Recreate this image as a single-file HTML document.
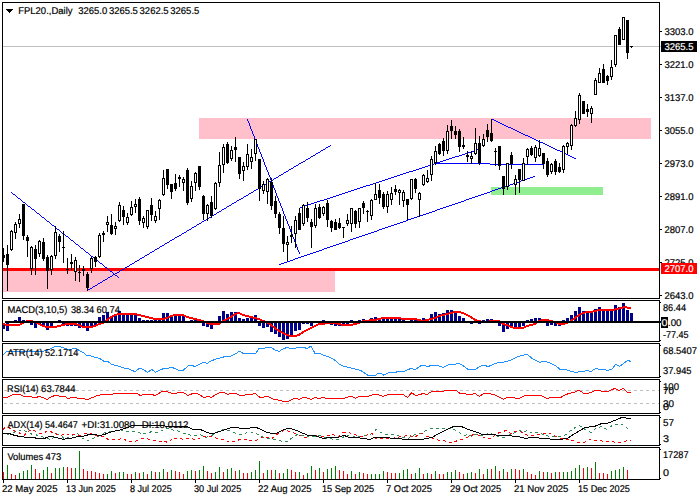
<!DOCTYPE html>
<html><head><meta charset="utf-8"><title>FPL20 Daily</title>
<style>
html,body{margin:0;padding:0;background:#fff;width:700px;height:500px;overflow:hidden}
svg{display:block}
text{font-family:"Liberation Sans",sans-serif;font-size:9.8px;fill:#000;stroke:#000;stroke-width:0.2px;text-rendering:geometricPrecision}
</style></head>
<body>
<svg width="700" height="500" viewBox="0 0 700 500" shape-rendering="crispEdges">
<rect x="0" y="0" width="700" height="500" fill="#fff"/>
<rect x="199" y="118" width="452" height="21" fill="#ffc0cb"/>
<rect x="3" y="268" width="332" height="24" fill="#ffc0cb"/>
<rect x="491" y="187" width="112" height="8" fill="#90ee90"/>
<rect x="3" y="46" width="658" height="1" fill="#c0c0c0"/>
<rect x="3" y="268" width="656" height="3" fill="#ff0000"/>
<rect x="11" y="192" width="1" height="1" fill="#0000ff"/>
<rect x="12" y="193" width="1" height="1" fill="#0000ff"/>
<rect x="13" y="194" width="2" height="1" fill="#0000ff"/>
<rect x="15" y="195" width="1" height="1" fill="#0000ff"/>
<rect x="16" y="196" width="1" height="1" fill="#0000ff"/>
<rect x="17" y="197" width="1" height="1" fill="#0000ff"/>
<rect x="18" y="198" width="2" height="1" fill="#0000ff"/>
<rect x="20" y="199" width="1" height="1" fill="#0000ff"/>
<rect x="21" y="200" width="1" height="1" fill="#0000ff"/>
<rect x="22" y="201" width="1" height="1" fill="#0000ff"/>
<rect x="23" y="202" width="2" height="1" fill="#0000ff"/>
<rect x="25" y="203" width="1" height="1" fill="#0000ff"/>
<rect x="26" y="204" width="1" height="1" fill="#0000ff"/>
<rect x="27" y="205" width="1" height="1" fill="#0000ff"/>
<rect x="28" y="206" width="2" height="1" fill="#0000ff"/>
<rect x="30" y="207" width="1" height="1" fill="#0000ff"/>
<rect x="31" y="208" width="1" height="1" fill="#0000ff"/>
<rect x="32" y="209" width="2" height="1" fill="#0000ff"/>
<rect x="34" y="210" width="1" height="1" fill="#0000ff"/>
<rect x="35" y="211" width="1" height="1" fill="#0000ff"/>
<rect x="36" y="212" width="1" height="1" fill="#0000ff"/>
<rect x="37" y="213" width="2" height="1" fill="#0000ff"/>
<rect x="39" y="214" width="1" height="1" fill="#0000ff"/>
<rect x="40" y="215" width="1" height="1" fill="#0000ff"/>
<rect x="41" y="216" width="1" height="1" fill="#0000ff"/>
<rect x="42" y="217" width="2" height="1" fill="#0000ff"/>
<rect x="44" y="218" width="1" height="1" fill="#0000ff"/>
<rect x="45" y="219" width="1" height="1" fill="#0000ff"/>
<rect x="46" y="220" width="1" height="1" fill="#0000ff"/>
<rect x="47" y="221" width="2" height="1" fill="#0000ff"/>
<rect x="49" y="222" width="1" height="1" fill="#0000ff"/>
<rect x="50" y="223" width="1" height="1" fill="#0000ff"/>
<rect x="51" y="224" width="1" height="1" fill="#0000ff"/>
<rect x="52" y="225" width="2" height="1" fill="#0000ff"/>
<rect x="54" y="226" width="1" height="1" fill="#0000ff"/>
<rect x="55" y="227" width="1" height="1" fill="#0000ff"/>
<rect x="56" y="228" width="1" height="1" fill="#0000ff"/>
<rect x="57" y="229" width="2" height="1" fill="#0000ff"/>
<rect x="59" y="230" width="1" height="1" fill="#0000ff"/>
<rect x="60" y="231" width="1" height="1" fill="#0000ff"/>
<rect x="61" y="232" width="1" height="1" fill="#0000ff"/>
<rect x="62" y="233" width="2" height="1" fill="#0000ff"/>
<rect x="64" y="234" width="1" height="1" fill="#0000ff"/>
<rect x="65" y="235" width="1" height="1" fill="#0000ff"/>
<rect x="66" y="236" width="2" height="1" fill="#0000ff"/>
<rect x="68" y="237" width="1" height="1" fill="#0000ff"/>
<rect x="69" y="238" width="1" height="1" fill="#0000ff"/>
<rect x="70" y="239" width="1" height="1" fill="#0000ff"/>
<rect x="71" y="240" width="2" height="1" fill="#0000ff"/>
<rect x="73" y="241" width="1" height="1" fill="#0000ff"/>
<rect x="74" y="242" width="1" height="1" fill="#0000ff"/>
<rect x="75" y="243" width="1" height="1" fill="#0000ff"/>
<rect x="76" y="244" width="2" height="1" fill="#0000ff"/>
<rect x="78" y="245" width="1" height="1" fill="#0000ff"/>
<rect x="79" y="246" width="1" height="1" fill="#0000ff"/>
<rect x="80" y="247" width="1" height="1" fill="#0000ff"/>
<rect x="81" y="248" width="2" height="1" fill="#0000ff"/>
<rect x="83" y="249" width="1" height="1" fill="#0000ff"/>
<rect x="84" y="250" width="1" height="1" fill="#0000ff"/>
<rect x="85" y="251" width="1" height="1" fill="#0000ff"/>
<rect x="86" y="252" width="2" height="1" fill="#0000ff"/>
<rect x="88" y="253" width="1" height="1" fill="#0000ff"/>
<rect x="89" y="254" width="1" height="1" fill="#0000ff"/>
<rect x="90" y="255" width="1" height="1" fill="#0000ff"/>
<rect x="91" y="256" width="2" height="1" fill="#0000ff"/>
<rect x="93" y="257" width="1" height="1" fill="#0000ff"/>
<rect x="94" y="258" width="1" height="1" fill="#0000ff"/>
<rect x="95" y="259" width="1" height="1" fill="#0000ff"/>
<rect x="96" y="260" width="2" height="1" fill="#0000ff"/>
<rect x="98" y="261" width="1" height="1" fill="#0000ff"/>
<rect x="99" y="262" width="1" height="1" fill="#0000ff"/>
<rect x="100" y="263" width="2" height="1" fill="#0000ff"/>
<rect x="102" y="264" width="1" height="1" fill="#0000ff"/>
<rect x="103" y="265" width="1" height="1" fill="#0000ff"/>
<rect x="104" y="266" width="1" height="1" fill="#0000ff"/>
<rect x="105" y="267" width="2" height="1" fill="#0000ff"/>
<rect x="107" y="268" width="1" height="1" fill="#0000ff"/>
<rect x="108" y="269" width="1" height="1" fill="#0000ff"/>
<rect x="109" y="270" width="1" height="1" fill="#0000ff"/>
<rect x="110" y="271" width="2" height="1" fill="#0000ff"/>
<rect x="112" y="272" width="1" height="1" fill="#0000ff"/>
<rect x="113" y="273" width="1" height="1" fill="#0000ff"/>
<rect x="114" y="274" width="1" height="1" fill="#0000ff"/>
<rect x="115" y="275" width="2" height="1" fill="#0000ff"/>
<rect x="117" y="276" width="1" height="1" fill="#0000ff"/>
<rect x="118" y="277" width="1" height="1" fill="#0000ff"/>
<rect x="87" y="290" width="1" height="1" fill="#0000ff"/>
<rect x="88" y="289" width="2" height="1" fill="#0000ff"/>
<rect x="90" y="288" width="2" height="1" fill="#0000ff"/>
<rect x="92" y="287" width="1" height="1" fill="#0000ff"/>
<rect x="93" y="286" width="2" height="1" fill="#0000ff"/>
<rect x="95" y="285" width="2" height="1" fill="#0000ff"/>
<rect x="97" y="284" width="1" height="1" fill="#0000ff"/>
<rect x="98" y="283" width="2" height="1" fill="#0000ff"/>
<rect x="100" y="282" width="2" height="1" fill="#0000ff"/>
<rect x="102" y="281" width="1" height="1" fill="#0000ff"/>
<rect x="103" y="280" width="2" height="1" fill="#0000ff"/>
<rect x="105" y="279" width="2" height="1" fill="#0000ff"/>
<rect x="107" y="278" width="1" height="1" fill="#0000ff"/>
<rect x="108" y="277" width="2" height="1" fill="#0000ff"/>
<rect x="110" y="276" width="2" height="1" fill="#0000ff"/>
<rect x="112" y="275" width="1" height="1" fill="#0000ff"/>
<rect x="113" y="274" width="2" height="1" fill="#0000ff"/>
<rect x="115" y="273" width="2" height="1" fill="#0000ff"/>
<rect x="117" y="272" width="2" height="1" fill="#0000ff"/>
<rect x="119" y="271" width="1" height="1" fill="#0000ff"/>
<rect x="120" y="270" width="2" height="1" fill="#0000ff"/>
<rect x="122" y="269" width="2" height="1" fill="#0000ff"/>
<rect x="124" y="268" width="1" height="1" fill="#0000ff"/>
<rect x="125" y="267" width="2" height="1" fill="#0000ff"/>
<rect x="127" y="266" width="2" height="1" fill="#0000ff"/>
<rect x="129" y="265" width="1" height="1" fill="#0000ff"/>
<rect x="130" y="264" width="2" height="1" fill="#0000ff"/>
<rect x="132" y="263" width="2" height="1" fill="#0000ff"/>
<rect x="134" y="262" width="1" height="1" fill="#0000ff"/>
<rect x="135" y="261" width="2" height="1" fill="#0000ff"/>
<rect x="137" y="260" width="2" height="1" fill="#0000ff"/>
<rect x="139" y="259" width="1" height="1" fill="#0000ff"/>
<rect x="140" y="258" width="2" height="1" fill="#0000ff"/>
<rect x="142" y="257" width="2" height="1" fill="#0000ff"/>
<rect x="144" y="256" width="1" height="1" fill="#0000ff"/>
<rect x="145" y="255" width="2" height="1" fill="#0000ff"/>
<rect x="147" y="254" width="2" height="1" fill="#0000ff"/>
<rect x="149" y="253" width="1" height="1" fill="#0000ff"/>
<rect x="150" y="252" width="2" height="1" fill="#0000ff"/>
<rect x="152" y="251" width="2" height="1" fill="#0000ff"/>
<rect x="154" y="250" width="1" height="1" fill="#0000ff"/>
<rect x="155" y="249" width="2" height="1" fill="#0000ff"/>
<rect x="157" y="248" width="2" height="1" fill="#0000ff"/>
<rect x="159" y="247" width="1" height="1" fill="#0000ff"/>
<rect x="160" y="246" width="2" height="1" fill="#0000ff"/>
<rect x="162" y="245" width="2" height="1" fill="#0000ff"/>
<rect x="164" y="244" width="1" height="1" fill="#0000ff"/>
<rect x="165" y="243" width="2" height="1" fill="#0000ff"/>
<rect x="167" y="242" width="2" height="1" fill="#0000ff"/>
<rect x="169" y="241" width="1" height="1" fill="#0000ff"/>
<rect x="170" y="240" width="2" height="1" fill="#0000ff"/>
<rect x="172" y="239" width="2" height="1" fill="#0000ff"/>
<rect x="174" y="238" width="1" height="1" fill="#0000ff"/>
<rect x="175" y="237" width="2" height="1" fill="#0000ff"/>
<rect x="177" y="236" width="2" height="1" fill="#0000ff"/>
<rect x="179" y="235" width="2" height="1" fill="#0000ff"/>
<rect x="181" y="234" width="1" height="1" fill="#0000ff"/>
<rect x="182" y="233" width="2" height="1" fill="#0000ff"/>
<rect x="184" y="232" width="2" height="1" fill="#0000ff"/>
<rect x="186" y="231" width="1" height="1" fill="#0000ff"/>
<rect x="187" y="230" width="2" height="1" fill="#0000ff"/>
<rect x="189" y="229" width="2" height="1" fill="#0000ff"/>
<rect x="191" y="228" width="1" height="1" fill="#0000ff"/>
<rect x="192" y="227" width="2" height="1" fill="#0000ff"/>
<rect x="194" y="226" width="2" height="1" fill="#0000ff"/>
<rect x="196" y="225" width="1" height="1" fill="#0000ff"/>
<rect x="197" y="224" width="2" height="1" fill="#0000ff"/>
<rect x="199" y="223" width="2" height="1" fill="#0000ff"/>
<rect x="201" y="222" width="1" height="1" fill="#0000ff"/>
<rect x="202" y="221" width="2" height="1" fill="#0000ff"/>
<rect x="204" y="220" width="2" height="1" fill="#0000ff"/>
<rect x="206" y="219" width="1" height="1" fill="#0000ff"/>
<rect x="207" y="218" width="2" height="1" fill="#0000ff"/>
<rect x="209" y="217" width="2" height="1" fill="#0000ff"/>
<rect x="211" y="216" width="1" height="1" fill="#0000ff"/>
<rect x="212" y="215" width="2" height="1" fill="#0000ff"/>
<rect x="214" y="214" width="2" height="1" fill="#0000ff"/>
<rect x="216" y="213" width="1" height="1" fill="#0000ff"/>
<rect x="217" y="212" width="2" height="1" fill="#0000ff"/>
<rect x="219" y="211" width="2" height="1" fill="#0000ff"/>
<rect x="221" y="210" width="1" height="1" fill="#0000ff"/>
<rect x="222" y="209" width="2" height="1" fill="#0000ff"/>
<rect x="224" y="208" width="2" height="1" fill="#0000ff"/>
<rect x="226" y="207" width="1" height="1" fill="#0000ff"/>
<rect x="227" y="206" width="2" height="1" fill="#0000ff"/>
<rect x="229" y="205" width="2" height="1" fill="#0000ff"/>
<rect x="231" y="204" width="1" height="1" fill="#0000ff"/>
<rect x="232" y="203" width="2" height="1" fill="#0000ff"/>
<rect x="234" y="202" width="2" height="1" fill="#0000ff"/>
<rect x="236" y="201" width="1" height="1" fill="#0000ff"/>
<rect x="237" y="200" width="2" height="1" fill="#0000ff"/>
<rect x="239" y="199" width="2" height="1" fill="#0000ff"/>
<rect x="241" y="198" width="2" height="1" fill="#0000ff"/>
<rect x="243" y="197" width="1" height="1" fill="#0000ff"/>
<rect x="244" y="196" width="2" height="1" fill="#0000ff"/>
<rect x="246" y="195" width="2" height="1" fill="#0000ff"/>
<rect x="248" y="194" width="1" height="1" fill="#0000ff"/>
<rect x="249" y="193" width="2" height="1" fill="#0000ff"/>
<rect x="251" y="192" width="2" height="1" fill="#0000ff"/>
<rect x="253" y="191" width="1" height="1" fill="#0000ff"/>
<rect x="254" y="190" width="2" height="1" fill="#0000ff"/>
<rect x="256" y="189" width="2" height="1" fill="#0000ff"/>
<rect x="258" y="188" width="1" height="1" fill="#0000ff"/>
<rect x="259" y="187" width="2" height="1" fill="#0000ff"/>
<rect x="261" y="186" width="2" height="1" fill="#0000ff"/>
<rect x="263" y="185" width="1" height="1" fill="#0000ff"/>
<rect x="264" y="184" width="2" height="1" fill="#0000ff"/>
<rect x="266" y="183" width="2" height="1" fill="#0000ff"/>
<rect x="268" y="182" width="1" height="1" fill="#0000ff"/>
<rect x="269" y="181" width="2" height="1" fill="#0000ff"/>
<rect x="271" y="180" width="2" height="1" fill="#0000ff"/>
<rect x="273" y="179" width="1" height="1" fill="#0000ff"/>
<rect x="274" y="178" width="2" height="1" fill="#0000ff"/>
<rect x="276" y="177" width="2" height="1" fill="#0000ff"/>
<rect x="278" y="176" width="1" height="1" fill="#0000ff"/>
<rect x="279" y="175" width="2" height="1" fill="#0000ff"/>
<rect x="281" y="174" width="2" height="1" fill="#0000ff"/>
<rect x="283" y="173" width="1" height="1" fill="#0000ff"/>
<rect x="284" y="172" width="2" height="1" fill="#0000ff"/>
<rect x="286" y="171" width="2" height="1" fill="#0000ff"/>
<rect x="288" y="170" width="1" height="1" fill="#0000ff"/>
<rect x="289" y="169" width="2" height="1" fill="#0000ff"/>
<rect x="291" y="168" width="2" height="1" fill="#0000ff"/>
<rect x="293" y="167" width="1" height="1" fill="#0000ff"/>
<rect x="294" y="166" width="2" height="1" fill="#0000ff"/>
<rect x="296" y="165" width="2" height="1" fill="#0000ff"/>
<rect x="298" y="164" width="1" height="1" fill="#0000ff"/>
<rect x="299" y="163" width="2" height="1" fill="#0000ff"/>
<rect x="301" y="162" width="2" height="1" fill="#0000ff"/>
<rect x="303" y="161" width="2" height="1" fill="#0000ff"/>
<rect x="305" y="160" width="1" height="1" fill="#0000ff"/>
<rect x="306" y="159" width="2" height="1" fill="#0000ff"/>
<rect x="308" y="158" width="2" height="1" fill="#0000ff"/>
<rect x="310" y="157" width="1" height="1" fill="#0000ff"/>
<rect x="311" y="156" width="2" height="1" fill="#0000ff"/>
<rect x="313" y="155" width="2" height="1" fill="#0000ff"/>
<rect x="315" y="154" width="1" height="1" fill="#0000ff"/>
<rect x="316" y="153" width="2" height="1" fill="#0000ff"/>
<rect x="318" y="152" width="2" height="1" fill="#0000ff"/>
<rect x="320" y="151" width="1" height="1" fill="#0000ff"/>
<rect x="321" y="150" width="2" height="1" fill="#0000ff"/>
<rect x="323" y="149" width="2" height="1" fill="#0000ff"/>
<rect x="325" y="148" width="1" height="1" fill="#0000ff"/>
<rect x="326" y="147" width="2" height="1" fill="#0000ff"/>
<rect x="328" y="146" width="2" height="1" fill="#0000ff"/>
<rect x="330" y="145" width="1" height="1" fill="#0000ff"/>
<rect x="247" y="119" width="1" height="2" fill="#0000ff"/>
<rect x="248" y="121" width="1" height="2" fill="#0000ff"/>
<rect x="249" y="123" width="1" height="3" fill="#0000ff"/>
<rect x="250" y="126" width="1" height="3" fill="#0000ff"/>
<rect x="251" y="129" width="1" height="2" fill="#0000ff"/>
<rect x="252" y="131" width="1" height="3" fill="#0000ff"/>
<rect x="253" y="134" width="1" height="2" fill="#0000ff"/>
<rect x="254" y="136" width="1" height="3" fill="#0000ff"/>
<rect x="255" y="139" width="1" height="2" fill="#0000ff"/>
<rect x="256" y="141" width="1" height="3" fill="#0000ff"/>
<rect x="257" y="144" width="1" height="3" fill="#0000ff"/>
<rect x="258" y="147" width="1" height="2" fill="#0000ff"/>
<rect x="259" y="149" width="1" height="3" fill="#0000ff"/>
<rect x="260" y="152" width="1" height="2" fill="#0000ff"/>
<rect x="261" y="154" width="1" height="3" fill="#0000ff"/>
<rect x="262" y="157" width="1" height="2" fill="#0000ff"/>
<rect x="263" y="159" width="1" height="3" fill="#0000ff"/>
<rect x="264" y="162" width="1" height="3" fill="#0000ff"/>
<rect x="265" y="165" width="1" height="2" fill="#0000ff"/>
<rect x="266" y="167" width="1" height="3" fill="#0000ff"/>
<rect x="267" y="170" width="1" height="2" fill="#0000ff"/>
<rect x="268" y="172" width="1" height="3" fill="#0000ff"/>
<rect x="269" y="175" width="1" height="2" fill="#0000ff"/>
<rect x="270" y="177" width="1" height="3" fill="#0000ff"/>
<rect x="271" y="180" width="1" height="3" fill="#0000ff"/>
<rect x="272" y="183" width="1" height="2" fill="#0000ff"/>
<rect x="273" y="185" width="1" height="3" fill="#0000ff"/>
<rect x="274" y="188" width="1" height="2" fill="#0000ff"/>
<rect x="275" y="190" width="1" height="3" fill="#0000ff"/>
<rect x="276" y="193" width="1" height="3" fill="#0000ff"/>
<rect x="277" y="196" width="1" height="2" fill="#0000ff"/>
<rect x="278" y="198" width="1" height="3" fill="#0000ff"/>
<rect x="279" y="201" width="1" height="2" fill="#0000ff"/>
<rect x="280" y="203" width="1" height="3" fill="#0000ff"/>
<rect x="281" y="206" width="1" height="2" fill="#0000ff"/>
<rect x="282" y="208" width="1" height="3" fill="#0000ff"/>
<rect x="283" y="211" width="1" height="3" fill="#0000ff"/>
<rect x="284" y="214" width="1" height="2" fill="#0000ff"/>
<rect x="285" y="216" width="1" height="3" fill="#0000ff"/>
<rect x="286" y="219" width="1" height="2" fill="#0000ff"/>
<rect x="287" y="221" width="1" height="3" fill="#0000ff"/>
<rect x="288" y="224" width="1" height="2" fill="#0000ff"/>
<rect x="289" y="226" width="1" height="3" fill="#0000ff"/>
<rect x="290" y="229" width="1" height="3" fill="#0000ff"/>
<rect x="291" y="232" width="1" height="2" fill="#0000ff"/>
<rect x="292" y="234" width="1" height="3" fill="#0000ff"/>
<rect x="293" y="237" width="1" height="2" fill="#0000ff"/>
<rect x="294" y="239" width="1" height="3" fill="#0000ff"/>
<rect x="295" y="242" width="1" height="2" fill="#0000ff"/>
<rect x="296" y="244" width="1" height="3" fill="#0000ff"/>
<rect x="297" y="247" width="1" height="3" fill="#0000ff"/>
<rect x="298" y="250" width="1" height="2" fill="#0000ff"/>
<rect x="299" y="252" width="1" height="2" fill="#0000ff"/>
<rect x="300" y="207" width="2" height="1" fill="#0000ff"/>
<rect x="302" y="206" width="3" height="1" fill="#0000ff"/>
<rect x="305" y="205" width="3" height="1" fill="#0000ff"/>
<rect x="308" y="204" width="3" height="1" fill="#0000ff"/>
<rect x="311" y="203" width="3" height="1" fill="#0000ff"/>
<rect x="314" y="202" width="3" height="1" fill="#0000ff"/>
<rect x="317" y="201" width="3" height="1" fill="#0000ff"/>
<rect x="320" y="200" width="4" height="1" fill="#0000ff"/>
<rect x="324" y="199" width="3" height="1" fill="#0000ff"/>
<rect x="327" y="198" width="3" height="1" fill="#0000ff"/>
<rect x="330" y="197" width="3" height="1" fill="#0000ff"/>
<rect x="333" y="196" width="3" height="1" fill="#0000ff"/>
<rect x="336" y="195" width="3" height="1" fill="#0000ff"/>
<rect x="339" y="194" width="3" height="1" fill="#0000ff"/>
<rect x="342" y="193" width="3" height="1" fill="#0000ff"/>
<rect x="345" y="192" width="3" height="1" fill="#0000ff"/>
<rect x="348" y="191" width="3" height="1" fill="#0000ff"/>
<rect x="351" y="190" width="3" height="1" fill="#0000ff"/>
<rect x="354" y="189" width="3" height="1" fill="#0000ff"/>
<rect x="357" y="188" width="3" height="1" fill="#0000ff"/>
<rect x="360" y="187" width="3" height="1" fill="#0000ff"/>
<rect x="363" y="186" width="3" height="1" fill="#0000ff"/>
<rect x="366" y="185" width="4" height="1" fill="#0000ff"/>
<rect x="370" y="184" width="3" height="1" fill="#0000ff"/>
<rect x="373" y="183" width="3" height="1" fill="#0000ff"/>
<rect x="376" y="182" width="3" height="1" fill="#0000ff"/>
<rect x="379" y="181" width="3" height="1" fill="#0000ff"/>
<rect x="382" y="180" width="3" height="1" fill="#0000ff"/>
<rect x="385" y="179" width="3" height="1" fill="#0000ff"/>
<rect x="388" y="178" width="3" height="1" fill="#0000ff"/>
<rect x="391" y="177" width="3" height="1" fill="#0000ff"/>
<rect x="394" y="176" width="3" height="1" fill="#0000ff"/>
<rect x="397" y="175" width="3" height="1" fill="#0000ff"/>
<rect x="400" y="174" width="3" height="1" fill="#0000ff"/>
<rect x="403" y="173" width="3" height="1" fill="#0000ff"/>
<rect x="406" y="172" width="3" height="1" fill="#0000ff"/>
<rect x="409" y="171" width="4" height="1" fill="#0000ff"/>
<rect x="413" y="170" width="3" height="1" fill="#0000ff"/>
<rect x="416" y="169" width="3" height="1" fill="#0000ff"/>
<rect x="419" y="168" width="3" height="1" fill="#0000ff"/>
<rect x="422" y="167" width="3" height="1" fill="#0000ff"/>
<rect x="425" y="166" width="3" height="1" fill="#0000ff"/>
<rect x="428" y="165" width="3" height="1" fill="#0000ff"/>
<rect x="431" y="164" width="3" height="1" fill="#0000ff"/>
<rect x="434" y="163" width="3" height="1" fill="#0000ff"/>
<rect x="437" y="162" width="3" height="1" fill="#0000ff"/>
<rect x="440" y="161" width="3" height="1" fill="#0000ff"/>
<rect x="443" y="160" width="3" height="1" fill="#0000ff"/>
<rect x="446" y="159" width="3" height="1" fill="#0000ff"/>
<rect x="449" y="158" width="3" height="1" fill="#0000ff"/>
<rect x="452" y="157" width="3" height="1" fill="#0000ff"/>
<rect x="455" y="156" width="4" height="1" fill="#0000ff"/>
<rect x="459" y="155" width="3" height="1" fill="#0000ff"/>
<rect x="462" y="154" width="3" height="1" fill="#0000ff"/>
<rect x="465" y="153" width="3" height="1" fill="#0000ff"/>
<rect x="468" y="152" width="3" height="1" fill="#0000ff"/>
<rect x="471" y="151" width="3" height="1" fill="#0000ff"/>
<rect x="474" y="150" width="3" height="1" fill="#0000ff"/>
<rect x="477" y="149" width="2" height="1" fill="#0000ff"/>
<rect x="279" y="264" width="2" height="1" fill="#0000ff"/>
<rect x="281" y="263" width="3" height="1" fill="#0000ff"/>
<rect x="284" y="262" width="3" height="1" fill="#0000ff"/>
<rect x="287" y="261" width="3" height="1" fill="#0000ff"/>
<rect x="290" y="260" width="3" height="1" fill="#0000ff"/>
<rect x="293" y="259" width="2" height="1" fill="#0000ff"/>
<rect x="295" y="258" width="3" height="1" fill="#0000ff"/>
<rect x="298" y="257" width="3" height="1" fill="#0000ff"/>
<rect x="301" y="256" width="3" height="1" fill="#0000ff"/>
<rect x="304" y="255" width="3" height="1" fill="#0000ff"/>
<rect x="307" y="254" width="3" height="1" fill="#0000ff"/>
<rect x="310" y="253" width="3" height="1" fill="#0000ff"/>
<rect x="313" y="252" width="3" height="1" fill="#0000ff"/>
<rect x="316" y="251" width="3" height="1" fill="#0000ff"/>
<rect x="319" y="250" width="3" height="1" fill="#0000ff"/>
<rect x="322" y="249" width="2" height="1" fill="#0000ff"/>
<rect x="324" y="248" width="3" height="1" fill="#0000ff"/>
<rect x="327" y="247" width="3" height="1" fill="#0000ff"/>
<rect x="330" y="246" width="3" height="1" fill="#0000ff"/>
<rect x="333" y="245" width="3" height="1" fill="#0000ff"/>
<rect x="336" y="244" width="3" height="1" fill="#0000ff"/>
<rect x="339" y="243" width="3" height="1" fill="#0000ff"/>
<rect x="342" y="242" width="3" height="1" fill="#0000ff"/>
<rect x="345" y="241" width="3" height="1" fill="#0000ff"/>
<rect x="348" y="240" width="2" height="1" fill="#0000ff"/>
<rect x="350" y="239" width="3" height="1" fill="#0000ff"/>
<rect x="353" y="238" width="3" height="1" fill="#0000ff"/>
<rect x="356" y="237" width="3" height="1" fill="#0000ff"/>
<rect x="359" y="236" width="3" height="1" fill="#0000ff"/>
<rect x="362" y="235" width="3" height="1" fill="#0000ff"/>
<rect x="365" y="234" width="3" height="1" fill="#0000ff"/>
<rect x="368" y="233" width="3" height="1" fill="#0000ff"/>
<rect x="371" y="232" width="3" height="1" fill="#0000ff"/>
<rect x="374" y="231" width="3" height="1" fill="#0000ff"/>
<rect x="377" y="230" width="2" height="1" fill="#0000ff"/>
<rect x="379" y="229" width="3" height="1" fill="#0000ff"/>
<rect x="382" y="228" width="3" height="1" fill="#0000ff"/>
<rect x="385" y="227" width="3" height="1" fill="#0000ff"/>
<rect x="388" y="226" width="3" height="1" fill="#0000ff"/>
<rect x="391" y="225" width="3" height="1" fill="#0000ff"/>
<rect x="394" y="224" width="3" height="1" fill="#0000ff"/>
<rect x="397" y="223" width="3" height="1" fill="#0000ff"/>
<rect x="400" y="222" width="3" height="1" fill="#0000ff"/>
<rect x="403" y="221" width="3" height="1" fill="#0000ff"/>
<rect x="406" y="220" width="2" height="1" fill="#0000ff"/>
<rect x="408" y="219" width="3" height="1" fill="#0000ff"/>
<rect x="411" y="218" width="3" height="1" fill="#0000ff"/>
<rect x="414" y="217" width="3" height="1" fill="#0000ff"/>
<rect x="417" y="216" width="3" height="1" fill="#0000ff"/>
<rect x="420" y="215" width="3" height="1" fill="#0000ff"/>
<rect x="423" y="214" width="3" height="1" fill="#0000ff"/>
<rect x="426" y="213" width="3" height="1" fill="#0000ff"/>
<rect x="429" y="212" width="3" height="1" fill="#0000ff"/>
<rect x="432" y="211" width="3" height="1" fill="#0000ff"/>
<rect x="435" y="210" width="2" height="1" fill="#0000ff"/>
<rect x="437" y="209" width="3" height="1" fill="#0000ff"/>
<rect x="440" y="208" width="3" height="1" fill="#0000ff"/>
<rect x="443" y="207" width="3" height="1" fill="#0000ff"/>
<rect x="446" y="206" width="3" height="1" fill="#0000ff"/>
<rect x="449" y="205" width="3" height="1" fill="#0000ff"/>
<rect x="452" y="204" width="3" height="1" fill="#0000ff"/>
<rect x="455" y="203" width="3" height="1" fill="#0000ff"/>
<rect x="458" y="202" width="3" height="1" fill="#0000ff"/>
<rect x="461" y="201" width="3" height="1" fill="#0000ff"/>
<rect x="464" y="200" width="2" height="1" fill="#0000ff"/>
<rect x="466" y="199" width="3" height="1" fill="#0000ff"/>
<rect x="469" y="198" width="3" height="1" fill="#0000ff"/>
<rect x="472" y="197" width="3" height="1" fill="#0000ff"/>
<rect x="475" y="196" width="3" height="1" fill="#0000ff"/>
<rect x="478" y="195" width="3" height="1" fill="#0000ff"/>
<rect x="481" y="194" width="3" height="1" fill="#0000ff"/>
<rect x="484" y="193" width="3" height="1" fill="#0000ff"/>
<rect x="487" y="192" width="3" height="1" fill="#0000ff"/>
<rect x="490" y="191" width="2" height="1" fill="#0000ff"/>
<rect x="492" y="190" width="3" height="1" fill="#0000ff"/>
<rect x="495" y="189" width="3" height="1" fill="#0000ff"/>
<rect x="498" y="188" width="3" height="1" fill="#0000ff"/>
<rect x="501" y="187" width="3" height="1" fill="#0000ff"/>
<rect x="504" y="186" width="3" height="1" fill="#0000ff"/>
<rect x="507" y="185" width="3" height="1" fill="#0000ff"/>
<rect x="510" y="184" width="3" height="1" fill="#0000ff"/>
<rect x="513" y="183" width="3" height="1" fill="#0000ff"/>
<rect x="516" y="182" width="3" height="1" fill="#0000ff"/>
<rect x="519" y="181" width="2" height="1" fill="#0000ff"/>
<rect x="521" y="180" width="3" height="1" fill="#0000ff"/>
<rect x="524" y="179" width="3" height="1" fill="#0000ff"/>
<rect x="527" y="178" width="3" height="1" fill="#0000ff"/>
<rect x="530" y="177" width="3" height="1" fill="#0000ff"/>
<rect x="533" y="176" width="2" height="1" fill="#0000ff"/>
<rect x="436" y="163" width="54" height="1" fill="#0000ff"/>
<rect x="490" y="164" width="54" height="1" fill="#0000ff"/>
<rect x="492" y="119" width="2" height="1" fill="#0000ff"/>
<rect x="494" y="120" width="2" height="1" fill="#0000ff"/>
<rect x="496" y="121" width="2" height="1" fill="#0000ff"/>
<rect x="498" y="122" width="2" height="1" fill="#0000ff"/>
<rect x="500" y="123" width="2" height="1" fill="#0000ff"/>
<rect x="502" y="124" width="2" height="1" fill="#0000ff"/>
<rect x="504" y="125" width="2" height="1" fill="#0000ff"/>
<rect x="506" y="126" width="2" height="1" fill="#0000ff"/>
<rect x="508" y="127" width="3" height="1" fill="#0000ff"/>
<rect x="511" y="128" width="2" height="1" fill="#0000ff"/>
<rect x="513" y="129" width="2" height="1" fill="#0000ff"/>
<rect x="515" y="130" width="2" height="1" fill="#0000ff"/>
<rect x="517" y="131" width="2" height="1" fill="#0000ff"/>
<rect x="519" y="132" width="2" height="1" fill="#0000ff"/>
<rect x="521" y="133" width="2" height="1" fill="#0000ff"/>
<rect x="523" y="134" width="2" height="1" fill="#0000ff"/>
<rect x="525" y="135" width="3" height="1" fill="#0000ff"/>
<rect x="528" y="136" width="2" height="1" fill="#0000ff"/>
<rect x="530" y="137" width="2" height="1" fill="#0000ff"/>
<rect x="532" y="138" width="2" height="1" fill="#0000ff"/>
<rect x="534" y="139" width="2" height="1" fill="#0000ff"/>
<rect x="536" y="140" width="2" height="1" fill="#0000ff"/>
<rect x="538" y="141" width="2" height="1" fill="#0000ff"/>
<rect x="540" y="142" width="3" height="1" fill="#0000ff"/>
<rect x="543" y="143" width="2" height="1" fill="#0000ff"/>
<rect x="545" y="144" width="2" height="1" fill="#0000ff"/>
<rect x="547" y="145" width="2" height="1" fill="#0000ff"/>
<rect x="549" y="146" width="2" height="1" fill="#0000ff"/>
<rect x="551" y="147" width="2" height="1" fill="#0000ff"/>
<rect x="553" y="148" width="2" height="1" fill="#0000ff"/>
<rect x="555" y="149" width="2" height="1" fill="#0000ff"/>
<rect x="557" y="150" width="3" height="1" fill="#0000ff"/>
<rect x="560" y="151" width="2" height="1" fill="#0000ff"/>
<rect x="562" y="152" width="2" height="1" fill="#0000ff"/>
<rect x="564" y="153" width="2" height="1" fill="#0000ff"/>
<rect x="566" y="154" width="2" height="1" fill="#0000ff"/>
<rect x="568" y="155" width="2" height="1" fill="#0000ff"/>
<rect x="570" y="156" width="2" height="1" fill="#0000ff"/>
<rect x="572" y="157" width="2" height="1" fill="#0000ff"/>
<rect x="574" y="158" width="2" height="1" fill="#0000ff"/>
<rect x="3" y="248" width="1" height="14" fill="#000"/>
<rect x="2" y="255" width="3" height="3" fill="#000"/>
<rect x="7" y="245" width="1" height="46" fill="#000"/>
<rect x="6" y="254" width="3" height="11" fill="#000"/>
<rect x="11" y="230" width="1" height="21" fill="#000"/>
<rect x="10" y="231" width="3" height="19" fill="#000"/>
<rect x="11" y="232" width="1" height="17" fill="#fff"/>
<rect x="15" y="222" width="1" height="17" fill="#000"/>
<rect x="14" y="224" width="3" height="9" fill="#000"/>
<rect x="15" y="225" width="1" height="7" fill="#fff"/>
<rect x="19" y="214" width="1" height="14" fill="#000"/>
<rect x="18" y="219" width="3" height="5" fill="#000"/>
<rect x="19" y="220" width="1" height="3" fill="#fff"/>
<rect x="23" y="204" width="1" height="36" fill="#000"/>
<rect x="22" y="204" width="3" height="32" fill="#000"/>
<rect x="27" y="235" width="1" height="22" fill="#000"/>
<rect x="26" y="237" width="3" height="4" fill="#000"/>
<rect x="31" y="246" width="1" height="29" fill="#000"/>
<rect x="30" y="247" width="3" height="22" fill="#000"/>
<rect x="31" y="248" width="1" height="20" fill="#fff"/>
<rect x="35" y="245" width="1" height="30" fill="#000"/>
<rect x="34" y="249" width="3" height="10" fill="#000"/>
<rect x="39" y="240" width="1" height="17" fill="#000"/>
<rect x="38" y="241" width="3" height="13" fill="#000"/>
<rect x="39" y="242" width="1" height="11" fill="#fff"/>
<rect x="43" y="238" width="1" height="23" fill="#000"/>
<rect x="42" y="242" width="3" height="17" fill="#000"/>
<rect x="47" y="255" width="1" height="34" fill="#000"/>
<rect x="46" y="257" width="3" height="14" fill="#000"/>
<rect x="51" y="255" width="1" height="20" fill="#000"/>
<rect x="50" y="256" width="3" height="14" fill="#000"/>
<rect x="51" y="257" width="1" height="12" fill="#fff"/>
<rect x="55" y="226" width="1" height="33" fill="#000"/>
<rect x="54" y="232" width="3" height="24" fill="#000"/>
<rect x="55" y="233" width="1" height="22" fill="#fff"/>
<rect x="59" y="234" width="1" height="18" fill="#000"/>
<rect x="58" y="236" width="3" height="6" fill="#000"/>
<rect x="63" y="231" width="1" height="32" fill="#000"/>
<rect x="62" y="247" width="3" height="1" fill="#000"/>
<rect x="67" y="258" width="1" height="16" fill="#000"/>
<rect x="66" y="269" width="3" height="1" fill="#000"/>
<rect x="71" y="254" width="1" height="16" fill="#000"/>
<rect x="70" y="262" width="3" height="2" fill="#000"/>
<rect x="75" y="257" width="1" height="24" fill="#000"/>
<rect x="74" y="260" width="3" height="12" fill="#000"/>
<rect x="75" y="261" width="1" height="10" fill="#fff"/>
<rect x="79" y="265" width="1" height="17" fill="#000"/>
<rect x="78" y="272" width="3" height="1" fill="#000"/>
<rect x="83" y="266" width="1" height="10" fill="#000"/>
<rect x="82" y="269" width="3" height="2" fill="#000"/>
<rect x="87" y="272" width="1" height="19" fill="#000"/>
<rect x="86" y="274" width="3" height="14" fill="#000"/>
<rect x="91" y="257" width="1" height="16" fill="#000"/>
<rect x="90" y="258" width="3" height="11" fill="#000"/>
<rect x="91" y="259" width="1" height="9" fill="#fff"/>
<rect x="95" y="256" width="1" height="11" fill="#000"/>
<rect x="94" y="257" width="3" height="5" fill="#000"/>
<rect x="99" y="233" width="1" height="25" fill="#000"/>
<rect x="98" y="235" width="3" height="22" fill="#000"/>
<rect x="99" y="236" width="1" height="20" fill="#fff"/>
<rect x="103" y="231" width="1" height="11" fill="#000"/>
<rect x="102" y="233" width="3" height="2" fill="#000"/>
<rect x="107" y="216" width="1" height="16" fill="#000"/>
<rect x="106" y="222" width="3" height="3" fill="#000"/>
<rect x="107" y="223" width="1" height="1" fill="#fff"/>
<rect x="111" y="214" width="1" height="21" fill="#000"/>
<rect x="110" y="225" width="3" height="9" fill="#000"/>
<rect x="115" y="222" width="1" height="13" fill="#000"/>
<rect x="114" y="226" width="3" height="3" fill="#000"/>
<rect x="115" y="227" width="1" height="1" fill="#fff"/>
<rect x="119" y="202" width="1" height="20" fill="#000"/>
<rect x="118" y="205" width="3" height="16" fill="#000"/>
<rect x="119" y="206" width="1" height="14" fill="#fff"/>
<rect x="123" y="206" width="1" height="19" fill="#000"/>
<rect x="122" y="210" width="3" height="7" fill="#000"/>
<rect x="127" y="213" width="1" height="12" fill="#000"/>
<rect x="126" y="217" width="3" height="6" fill="#000"/>
<rect x="127" y="218" width="1" height="4" fill="#fff"/>
<rect x="131" y="201" width="1" height="15" fill="#000"/>
<rect x="130" y="207" width="3" height="8" fill="#000"/>
<rect x="131" y="208" width="1" height="6" fill="#fff"/>
<rect x="135" y="199" width="1" height="14" fill="#000"/>
<rect x="134" y="204" width="3" height="3" fill="#000"/>
<rect x="135" y="205" width="1" height="1" fill="#fff"/>
<rect x="139" y="197" width="1" height="28" fill="#000"/>
<rect x="138" y="199" width="3" height="22" fill="#000"/>
<rect x="143" y="216" width="1" height="12" fill="#000"/>
<rect x="142" y="218" width="3" height="5" fill="#000"/>
<rect x="143" y="219" width="1" height="3" fill="#fff"/>
<rect x="147" y="210" width="1" height="19" fill="#000"/>
<rect x="146" y="210" width="3" height="17" fill="#000"/>
<rect x="147" y="211" width="1" height="15" fill="#fff"/>
<rect x="151" y="198" width="1" height="23" fill="#000"/>
<rect x="150" y="205" width="3" height="10" fill="#000"/>
<rect x="155" y="211" width="1" height="12" fill="#000"/>
<rect x="154" y="216" width="3" height="5" fill="#000"/>
<rect x="155" y="217" width="1" height="3" fill="#fff"/>
<rect x="159" y="199" width="1" height="21" fill="#000"/>
<rect x="158" y="200" width="3" height="9" fill="#000"/>
<rect x="159" y="201" width="1" height="7" fill="#fff"/>
<rect x="163" y="170" width="1" height="26" fill="#000"/>
<rect x="162" y="178" width="3" height="17" fill="#000"/>
<rect x="163" y="179" width="1" height="15" fill="#fff"/>
<rect x="167" y="169" width="1" height="20" fill="#000"/>
<rect x="166" y="169" width="3" height="16" fill="#000"/>
<rect x="171" y="184" width="1" height="15" fill="#000"/>
<rect x="170" y="184" width="3" height="8" fill="#000"/>
<rect x="175" y="174" width="1" height="17" fill="#000"/>
<rect x="174" y="183" width="3" height="6" fill="#000"/>
<rect x="179" y="175" width="1" height="12" fill="#000"/>
<rect x="178" y="177" width="3" height="2" fill="#000"/>
<rect x="183" y="177" width="1" height="14" fill="#000"/>
<rect x="182" y="179" width="3" height="4" fill="#000"/>
<rect x="183" y="180" width="1" height="2" fill="#fff"/>
<rect x="187" y="168" width="1" height="37" fill="#000"/>
<rect x="186" y="170" width="3" height="33" fill="#000"/>
<rect x="191" y="181" width="1" height="21" fill="#000"/>
<rect x="190" y="186" width="3" height="13" fill="#000"/>
<rect x="191" y="187" width="1" height="11" fill="#fff"/>
<rect x="195" y="172" width="1" height="19" fill="#000"/>
<rect x="194" y="173" width="3" height="10" fill="#000"/>
<rect x="195" y="174" width="1" height="8" fill="#fff"/>
<rect x="199" y="166" width="1" height="24" fill="#000"/>
<rect x="198" y="166" width="3" height="21" fill="#000"/>
<rect x="203" y="195" width="1" height="25" fill="#000"/>
<rect x="202" y="196" width="3" height="18" fill="#000"/>
<rect x="207" y="204" width="1" height="17" fill="#000"/>
<rect x="206" y="205" width="3" height="9" fill="#000"/>
<rect x="207" y="206" width="1" height="7" fill="#fff"/>
<rect x="211" y="196" width="1" height="22" fill="#000"/>
<rect x="210" y="202" width="3" height="14" fill="#000"/>
<rect x="215" y="182" width="1" height="28" fill="#000"/>
<rect x="214" y="183" width="3" height="26" fill="#000"/>
<rect x="215" y="184" width="1" height="24" fill="#fff"/>
<rect x="219" y="152" width="1" height="35" fill="#000"/>
<rect x="218" y="165" width="3" height="18" fill="#000"/>
<rect x="219" y="166" width="1" height="16" fill="#fff"/>
<rect x="223" y="144" width="1" height="29" fill="#000"/>
<rect x="222" y="147" width="3" height="18" fill="#000"/>
<rect x="223" y="148" width="1" height="16" fill="#fff"/>
<rect x="227" y="142" width="1" height="22" fill="#000"/>
<rect x="226" y="144" width="3" height="19" fill="#000"/>
<rect x="231" y="146" width="1" height="15" fill="#000"/>
<rect x="230" y="150" width="3" height="9" fill="#000"/>
<rect x="231" y="151" width="1" height="7" fill="#fff"/>
<rect x="235" y="137" width="1" height="25" fill="#000"/>
<rect x="234" y="147" width="3" height="3" fill="#000"/>
<rect x="239" y="157" width="1" height="22" fill="#000"/>
<rect x="238" y="157" width="3" height="17" fill="#000"/>
<rect x="243" y="162" width="1" height="19" fill="#000"/>
<rect x="242" y="166" width="3" height="5" fill="#000"/>
<rect x="243" y="167" width="1" height="3" fill="#fff"/>
<rect x="247" y="144" width="1" height="26" fill="#000"/>
<rect x="246" y="154" width="3" height="13" fill="#000"/>
<rect x="247" y="155" width="1" height="11" fill="#fff"/>
<rect x="251" y="149" width="1" height="20" fill="#000"/>
<rect x="250" y="157" width="3" height="5" fill="#000"/>
<rect x="251" y="158" width="1" height="3" fill="#fff"/>
<rect x="255" y="139" width="1" height="22" fill="#000"/>
<rect x="254" y="139" width="3" height="15" fill="#000"/>
<rect x="255" y="140" width="1" height="13" fill="#fff"/>
<rect x="259" y="159" width="1" height="42" fill="#000"/>
<rect x="258" y="159" width="3" height="30" fill="#000"/>
<rect x="263" y="181" width="1" height="13" fill="#000"/>
<rect x="262" y="184" width="3" height="7" fill="#000"/>
<rect x="263" y="185" width="1" height="5" fill="#fff"/>
<rect x="267" y="178" width="1" height="26" fill="#000"/>
<rect x="266" y="179" width="3" height="13" fill="#000"/>
<rect x="267" y="180" width="1" height="11" fill="#fff"/>
<rect x="271" y="178" width="1" height="32" fill="#000"/>
<rect x="270" y="182" width="3" height="24" fill="#000"/>
<rect x="275" y="196" width="1" height="22" fill="#000"/>
<rect x="274" y="201" width="3" height="13" fill="#000"/>
<rect x="279" y="212" width="1" height="22" fill="#000"/>
<rect x="278" y="214" width="3" height="14" fill="#000"/>
<rect x="283" y="216" width="1" height="36" fill="#000"/>
<rect x="282" y="228" width="3" height="16" fill="#000"/>
<rect x="287" y="236" width="1" height="25" fill="#000"/>
<rect x="286" y="242" width="3" height="3" fill="#000"/>
<rect x="287" y="243" width="1" height="1" fill="#fff"/>
<rect x="291" y="226" width="1" height="17" fill="#000"/>
<rect x="290" y="235" width="3" height="2" fill="#000"/>
<rect x="295" y="216" width="1" height="32" fill="#000"/>
<rect x="294" y="220" width="3" height="14" fill="#000"/>
<rect x="295" y="221" width="1" height="12" fill="#fff"/>
<rect x="299" y="208" width="1" height="22" fill="#000"/>
<rect x="298" y="213" width="3" height="17" fill="#000"/>
<rect x="303" y="204" width="1" height="22" fill="#000"/>
<rect x="302" y="205" width="3" height="19" fill="#000"/>
<rect x="303" y="206" width="1" height="17" fill="#fff"/>
<rect x="307" y="202" width="1" height="20" fill="#000"/>
<rect x="306" y="208" width="3" height="10" fill="#000"/>
<rect x="311" y="219" width="1" height="29" fill="#000"/>
<rect x="310" y="222" width="3" height="5" fill="#000"/>
<rect x="315" y="204" width="1" height="24" fill="#000"/>
<rect x="314" y="208" width="3" height="18" fill="#000"/>
<rect x="315" y="209" width="1" height="16" fill="#fff"/>
<rect x="319" y="204" width="1" height="15" fill="#000"/>
<rect x="318" y="207" width="3" height="11" fill="#000"/>
<rect x="323" y="206" width="1" height="10" fill="#000"/>
<rect x="322" y="207" width="3" height="7" fill="#000"/>
<rect x="323" y="208" width="1" height="5" fill="#fff"/>
<rect x="327" y="200" width="1" height="27" fill="#000"/>
<rect x="326" y="203" width="3" height="17" fill="#000"/>
<rect x="331" y="220" width="1" height="12" fill="#000"/>
<rect x="330" y="221" width="3" height="7" fill="#000"/>
<rect x="335" y="219" width="1" height="11" fill="#000"/>
<rect x="334" y="222" width="3" height="8" fill="#000"/>
<rect x="339" y="218" width="1" height="11" fill="#000"/>
<rect x="338" y="223" width="3" height="5" fill="#000"/>
<rect x="343" y="227" width="1" height="11" fill="#000"/>
<rect x="342" y="227" width="3" height="1" fill="#000"/>
<rect x="347" y="214" width="1" height="12" fill="#000"/>
<rect x="346" y="220" width="3" height="4" fill="#000"/>
<rect x="347" y="221" width="1" height="2" fill="#fff"/>
<rect x="351" y="208" width="1" height="24" fill="#000"/>
<rect x="350" y="208" width="3" height="16" fill="#000"/>
<rect x="351" y="209" width="1" height="14" fill="#fff"/>
<rect x="355" y="210" width="1" height="18" fill="#000"/>
<rect x="354" y="211" width="3" height="13" fill="#000"/>
<rect x="359" y="208" width="1" height="20" fill="#000"/>
<rect x="358" y="208" width="3" height="14" fill="#000"/>
<rect x="359" y="209" width="1" height="12" fill="#fff"/>
<rect x="363" y="201" width="1" height="13" fill="#000"/>
<rect x="362" y="203" width="3" height="5" fill="#000"/>
<rect x="367" y="210" width="1" height="12" fill="#000"/>
<rect x="366" y="211" width="3" height="1" fill="#000"/>
<rect x="371" y="199" width="1" height="21" fill="#000"/>
<rect x="370" y="200" width="3" height="16" fill="#000"/>
<rect x="371" y="201" width="1" height="14" fill="#fff"/>
<rect x="375" y="183" width="1" height="17" fill="#000"/>
<rect x="374" y="194" width="3" height="6" fill="#000"/>
<rect x="375" y="195" width="1" height="4" fill="#fff"/>
<rect x="379" y="184" width="1" height="20" fill="#000"/>
<rect x="378" y="190" width="3" height="8" fill="#000"/>
<rect x="383" y="192" width="1" height="17" fill="#000"/>
<rect x="382" y="194" width="3" height="13" fill="#000"/>
<rect x="387" y="191" width="1" height="22" fill="#000"/>
<rect x="386" y="194" width="3" height="13" fill="#000"/>
<rect x="387" y="195" width="1" height="11" fill="#fff"/>
<rect x="391" y="187" width="1" height="18" fill="#000"/>
<rect x="390" y="193" width="3" height="7" fill="#000"/>
<rect x="391" y="194" width="1" height="5" fill="#fff"/>
<rect x="395" y="185" width="1" height="10" fill="#000"/>
<rect x="394" y="189" width="3" height="3" fill="#000"/>
<rect x="399" y="189" width="1" height="16" fill="#000"/>
<rect x="398" y="190" width="3" height="3" fill="#000"/>
<rect x="399" y="191" width="1" height="1" fill="#fff"/>
<rect x="403" y="190" width="1" height="17" fill="#000"/>
<rect x="402" y="192" width="3" height="9" fill="#000"/>
<rect x="403" y="193" width="1" height="7" fill="#fff"/>
<rect x="407" y="199" width="1" height="21" fill="#000"/>
<rect x="406" y="199" width="3" height="6" fill="#000"/>
<rect x="411" y="179" width="1" height="21" fill="#000"/>
<rect x="410" y="179" width="3" height="20" fill="#000"/>
<rect x="411" y="180" width="1" height="18" fill="#fff"/>
<rect x="415" y="178" width="1" height="15" fill="#000"/>
<rect x="414" y="179" width="3" height="10" fill="#000"/>
<rect x="419" y="192" width="1" height="25" fill="#000"/>
<rect x="418" y="193" width="3" height="7" fill="#000"/>
<rect x="419" y="194" width="1" height="5" fill="#fff"/>
<rect x="423" y="174" width="1" height="12" fill="#000"/>
<rect x="422" y="175" width="3" height="10" fill="#000"/>
<rect x="423" y="176" width="1" height="8" fill="#fff"/>
<rect x="427" y="170" width="1" height="13" fill="#000"/>
<rect x="426" y="178" width="3" height="4" fill="#000"/>
<rect x="427" y="179" width="1" height="2" fill="#fff"/>
<rect x="431" y="156" width="1" height="25" fill="#000"/>
<rect x="430" y="159" width="3" height="16" fill="#000"/>
<rect x="431" y="160" width="1" height="14" fill="#fff"/>
<rect x="435" y="146" width="1" height="19" fill="#000"/>
<rect x="434" y="151" width="3" height="12" fill="#000"/>
<rect x="435" y="152" width="1" height="10" fill="#fff"/>
<rect x="439" y="143" width="1" height="12" fill="#000"/>
<rect x="438" y="144" width="3" height="10" fill="#000"/>
<rect x="443" y="138" width="1" height="18" fill="#000"/>
<rect x="442" y="141" width="3" height="10" fill="#000"/>
<rect x="447" y="125" width="1" height="29" fill="#000"/>
<rect x="446" y="131" width="3" height="20" fill="#000"/>
<rect x="447" y="132" width="1" height="18" fill="#fff"/>
<rect x="451" y="120" width="1" height="19" fill="#000"/>
<rect x="450" y="126" width="3" height="5" fill="#000"/>
<rect x="455" y="126" width="1" height="13" fill="#000"/>
<rect x="454" y="131" width="3" height="4" fill="#000"/>
<rect x="459" y="129" width="1" height="23" fill="#000"/>
<rect x="458" y="131" width="3" height="16" fill="#000"/>
<rect x="463" y="137" width="1" height="12" fill="#000"/>
<rect x="462" y="145" width="3" height="2" fill="#000"/>
<rect x="467" y="151" width="1" height="11" fill="#000"/>
<rect x="466" y="155" width="3" height="2" fill="#000"/>
<rect x="471" y="151" width="1" height="13" fill="#000"/>
<rect x="470" y="156" width="3" height="3" fill="#000"/>
<rect x="471" y="157" width="1" height="1" fill="#fff"/>
<rect x="475" y="128" width="1" height="27" fill="#000"/>
<rect x="474" y="143" width="3" height="11" fill="#000"/>
<rect x="475" y="144" width="1" height="9" fill="#fff"/>
<rect x="479" y="136" width="1" height="29" fill="#000"/>
<rect x="478" y="143" width="3" height="20" fill="#000"/>
<rect x="483" y="134" width="1" height="13" fill="#000"/>
<rect x="482" y="139" width="3" height="7" fill="#000"/>
<rect x="483" y="140" width="1" height="5" fill="#fff"/>
<rect x="487" y="124" width="1" height="18" fill="#000"/>
<rect x="486" y="130" width="3" height="7" fill="#000"/>
<rect x="491" y="119" width="1" height="23" fill="#000"/>
<rect x="490" y="133" width="3" height="8" fill="#000"/>
<rect x="495" y="148" width="1" height="18" fill="#000"/>
<rect x="494" y="151" width="3" height="1" fill="#000"/>
<rect x="499" y="146" width="1" height="24" fill="#000"/>
<rect x="498" y="146" width="3" height="20" fill="#000"/>
<rect x="503" y="176" width="1" height="19" fill="#000"/>
<rect x="502" y="176" width="3" height="13" fill="#000"/>
<rect x="507" y="163" width="1" height="27" fill="#000"/>
<rect x="506" y="163" width="3" height="24" fill="#000"/>
<rect x="507" y="164" width="1" height="22" fill="#fff"/>
<rect x="511" y="152" width="1" height="17" fill="#000"/>
<rect x="510" y="155" width="3" height="9" fill="#000"/>
<rect x="515" y="175" width="1" height="20" fill="#000"/>
<rect x="514" y="179" width="3" height="6" fill="#000"/>
<rect x="515" y="180" width="1" height="4" fill="#fff"/>
<rect x="519" y="169" width="1" height="24" fill="#000"/>
<rect x="518" y="169" width="3" height="11" fill="#000"/>
<rect x="523" y="158" width="1" height="23" fill="#000"/>
<rect x="522" y="163" width="3" height="18" fill="#000"/>
<rect x="523" y="164" width="1" height="16" fill="#fff"/>
<rect x="527" y="148" width="1" height="17" fill="#000"/>
<rect x="526" y="149" width="3" height="8" fill="#000"/>
<rect x="527" y="150" width="1" height="6" fill="#fff"/>
<rect x="531" y="146" width="1" height="10" fill="#000"/>
<rect x="530" y="148" width="3" height="7" fill="#000"/>
<rect x="535" y="145" width="1" height="17" fill="#000"/>
<rect x="534" y="147" width="3" height="11" fill="#000"/>
<rect x="535" y="148" width="1" height="9" fill="#fff"/>
<rect x="539" y="140" width="1" height="17" fill="#000"/>
<rect x="538" y="148" width="3" height="8" fill="#000"/>
<rect x="539" y="149" width="1" height="6" fill="#fff"/>
<rect x="543" y="153" width="1" height="16" fill="#000"/>
<rect x="542" y="153" width="3" height="11" fill="#000"/>
<rect x="547" y="158" width="1" height="19" fill="#000"/>
<rect x="546" y="161" width="3" height="14" fill="#000"/>
<rect x="551" y="163" width="1" height="11" fill="#000"/>
<rect x="550" y="164" width="3" height="8" fill="#000"/>
<rect x="551" y="165" width="1" height="6" fill="#fff"/>
<rect x="555" y="159" width="1" height="16" fill="#000"/>
<rect x="554" y="161" width="3" height="11" fill="#000"/>
<rect x="559" y="163" width="1" height="10" fill="#000"/>
<rect x="558" y="167" width="3" height="5" fill="#000"/>
<rect x="563" y="145" width="1" height="28" fill="#000"/>
<rect x="562" y="146" width="3" height="24" fill="#000"/>
<rect x="563" y="147" width="1" height="22" fill="#fff"/>
<rect x="567" y="142" width="1" height="12" fill="#000"/>
<rect x="566" y="143" width="3" height="4" fill="#000"/>
<rect x="567" y="144" width="1" height="2" fill="#fff"/>
<rect x="571" y="124" width="1" height="26" fill="#000"/>
<rect x="570" y="125" width="3" height="21" fill="#000"/>
<rect x="571" y="126" width="1" height="19" fill="#fff"/>
<rect x="575" y="111" width="1" height="16" fill="#000"/>
<rect x="574" y="118" width="3" height="8" fill="#000"/>
<rect x="575" y="119" width="1" height="6" fill="#fff"/>
<rect x="579" y="93" width="1" height="31" fill="#000"/>
<rect x="578" y="95" width="3" height="25" fill="#000"/>
<rect x="579" y="96" width="1" height="23" fill="#fff"/>
<rect x="583" y="101" width="1" height="13" fill="#000"/>
<rect x="582" y="101" width="3" height="13" fill="#000"/>
<rect x="587" y="104" width="1" height="13" fill="#000"/>
<rect x="586" y="109" width="3" height="3" fill="#000"/>
<rect x="591" y="106" width="1" height="17" fill="#000"/>
<rect x="590" y="108" width="3" height="6" fill="#000"/>
<rect x="591" y="109" width="1" height="4" fill="#fff"/>
<rect x="595" y="78" width="1" height="17" fill="#000"/>
<rect x="594" y="80" width="3" height="15" fill="#000"/>
<rect x="595" y="81" width="1" height="13" fill="#fff"/>
<rect x="599" y="68" width="1" height="15" fill="#000"/>
<rect x="598" y="73" width="3" height="10" fill="#000"/>
<rect x="599" y="74" width="1" height="8" fill="#fff"/>
<rect x="603" y="64" width="1" height="19" fill="#000"/>
<rect x="602" y="69" width="3" height="14" fill="#000"/>
<rect x="607" y="75" width="1" height="10" fill="#000"/>
<rect x="606" y="76" width="3" height="5" fill="#000"/>
<rect x="611" y="60" width="1" height="20" fill="#000"/>
<rect x="610" y="67" width="3" height="10" fill="#000"/>
<rect x="611" y="68" width="1" height="8" fill="#fff"/>
<rect x="615" y="35" width="1" height="32" fill="#000"/>
<rect x="614" y="35" width="3" height="30" fill="#000"/>
<rect x="615" y="36" width="1" height="28" fill="#fff"/>
<rect x="619" y="27" width="1" height="18" fill="#000"/>
<rect x="618" y="29" width="3" height="16" fill="#000"/>
<rect x="623" y="17" width="1" height="23" fill="#000"/>
<rect x="622" y="17" width="3" height="23" fill="#000"/>
<rect x="623" y="18" width="1" height="21" fill="#fff"/>
<rect x="627" y="20" width="1" height="39" fill="#000"/>
<rect x="626" y="20" width="3" height="33" fill="#000"/>
<rect x="630" y="46" width="3" height="1" fill="#000"/>
<rect x="631" y="46" width="1" height="2" fill="#000"/>
<rect x="2" y="2" width="658" height="1" fill="#000"/>
<rect x="2" y="298" width="658" height="1" fill="#000"/>
<rect x="2" y="2" width="1" height="297" fill="#000"/>
<rect x="659" y="2" width="1" height="297" fill="#000"/>
<rect x="6" y="9" width="7" height="1" fill="#000"/>
<rect x="7" y="10" width="5" height="1" fill="#000"/>
<rect x="8" y="11" width="3" height="1" fill="#000"/>
<rect x="9" y="12" width="1" height="1" fill="#000"/>
<text x="18.2" y="14" textLength="54.3" lengthAdjust="spacingAndGlyphs">FPL20.,Daily</text>
<text x="78.2" y="14" textLength="29" lengthAdjust="spacingAndGlyphs">3265.0</text>
<text x="108.9" y="14" textLength="29" lengthAdjust="spacingAndGlyphs">3265.5</text>
<text x="139.6" y="14" textLength="29" lengthAdjust="spacingAndGlyphs">3262.5</text>
<text x="170.3" y="14" textLength="29" lengthAdjust="spacingAndGlyphs">3265.5</text>
<rect x="660" y="31" width="2" height="1" fill="#000"/>
<text x="664.5" y="35" textLength="29" lengthAdjust="spacingAndGlyphs">3303.0</text>
<rect x="660" y="64" width="2" height="1" fill="#000"/>
<text x="664.5" y="68" textLength="29" lengthAdjust="spacingAndGlyphs">3221.0</text>
<rect x="660" y="97" width="2" height="1" fill="#000"/>
<text x="664.5" y="101" textLength="29" lengthAdjust="spacingAndGlyphs">3137.0</text>
<rect x="660" y="130" width="2" height="1" fill="#000"/>
<text x="664.5" y="134" textLength="29" lengthAdjust="spacingAndGlyphs">3055.0</text>
<rect x="660" y="163" width="2" height="1" fill="#000"/>
<text x="664.5" y="167" textLength="29" lengthAdjust="spacingAndGlyphs">2973.0</text>
<rect x="660" y="196" width="2" height="1" fill="#000"/>
<text x="664.5" y="200" textLength="29" lengthAdjust="spacingAndGlyphs">2891.0</text>
<rect x="660" y="229" width="2" height="1" fill="#000"/>
<text x="664.5" y="233" textLength="29" lengthAdjust="spacingAndGlyphs">2807.0</text>
<rect x="660" y="262" width="2" height="1" fill="#000"/>
<text x="664.5" y="266" textLength="29" lengthAdjust="spacingAndGlyphs">2725.0</text>
<rect x="660" y="295" width="2" height="1" fill="#000"/>
<text x="664.5" y="299" textLength="29" lengthAdjust="spacingAndGlyphs">2643.0</text>
<rect x="661" y="263" width="36" height="11" fill="#ff0000"/>
<text x="664.5" y="272" textLength="29" lengthAdjust="spacingAndGlyphs" style="fill:#fff;stroke:#fff">2707.0</text>
<rect x="661" y="41" width="36" height="11" fill="#000"/>
<text x="664.5" y="50" textLength="29" lengthAdjust="spacingAndGlyphs" style="fill:#fff;stroke:#fff">3265.5</text>
<rect x="2" y="323" width="3" height="6" fill="#00008b"/>
<rect x="6" y="323" width="3" height="8" fill="#00008b"/>
<rect x="14" y="320" width="3" height="1" fill="#00008b"/>
<rect x="18" y="317" width="3" height="4" fill="#00008b"/>
<rect x="22" y="320" width="3" height="1" fill="#00008b"/>
<rect x="30" y="323" width="3" height="2" fill="#00008b"/>
<rect x="34" y="323" width="3" height="5" fill="#00008b"/>
<rect x="38" y="323" width="3" height="2" fill="#00008b"/>
<rect x="42" y="323" width="3" height="3" fill="#00008b"/>
<rect x="46" y="323" width="3" height="7" fill="#00008b"/>
<rect x="50" y="323" width="3" height="5" fill="#00008b"/>
<rect x="58" y="320" width="3" height="1" fill="#00008b"/>
<rect x="62" y="323" width="3" height="1" fill="#00008b"/>
<rect x="66" y="323" width="3" height="3" fill="#00008b"/>
<rect x="70" y="323" width="3" height="3" fill="#00008b"/>
<rect x="74" y="323" width="3" height="3" fill="#00008b"/>
<rect x="78" y="323" width="3" height="5" fill="#00008b"/>
<rect x="82" y="323" width="3" height="4" fill="#00008b"/>
<rect x="86" y="323" width="3" height="8" fill="#00008b"/>
<rect x="90" y="323" width="3" height="5" fill="#00008b"/>
<rect x="94" y="323" width="3" height="2" fill="#00008b"/>
<rect x="98" y="317" width="3" height="4" fill="#00008b"/>
<rect x="102" y="315" width="3" height="6" fill="#00008b"/>
<rect x="106" y="312" width="3" height="9" fill="#00008b"/>
<rect x="110" y="316" width="3" height="5" fill="#00008b"/>
<rect x="114" y="315" width="3" height="6" fill="#00008b"/>
<rect x="118" y="311" width="3" height="10" fill="#00008b"/>
<rect x="122" y="314" width="3" height="7" fill="#00008b"/>
<rect x="126" y="315" width="3" height="6" fill="#00008b"/>
<rect x="130" y="315" width="3" height="6" fill="#00008b"/>
<rect x="134" y="315" width="3" height="6" fill="#00008b"/>
<rect x="138" y="318" width="3" height="3" fill="#00008b"/>
<rect x="142" y="320" width="3" height="1" fill="#00008b"/>
<rect x="146" y="320" width="3" height="1" fill="#00008b"/>
<rect x="150" y="320" width="3" height="1" fill="#00008b"/>
<rect x="154" y="320" width="3" height="1" fill="#00008b"/>
<rect x="158" y="320" width="3" height="1" fill="#00008b"/>
<rect x="162" y="313" width="3" height="8" fill="#00008b"/>
<rect x="166" y="313" width="3" height="8" fill="#00008b"/>
<rect x="170" y="316" width="3" height="5" fill="#00008b"/>
<rect x="174" y="316" width="3" height="5" fill="#00008b"/>
<rect x="178" y="316" width="3" height="5" fill="#00008b"/>
<rect x="182" y="316" width="3" height="5" fill="#00008b"/>
<rect x="190" y="320" width="3" height="1" fill="#00008b"/>
<rect x="194" y="320" width="3" height="1" fill="#00008b"/>
<rect x="198" y="319" width="3" height="2" fill="#00008b"/>
<rect x="202" y="323" width="3" height="3" fill="#00008b"/>
<rect x="206" y="323" width="3" height="4" fill="#00008b"/>
<rect x="210" y="323" width="3" height="6" fill="#00008b"/>
<rect x="218" y="316" width="3" height="5" fill="#00008b"/>
<rect x="222" y="311" width="3" height="10" fill="#00008b"/>
<rect x="226" y="314" width="3" height="7" fill="#00008b"/>
<rect x="230" y="312" width="3" height="9" fill="#00008b"/>
<rect x="234" y="312" width="3" height="9" fill="#00008b"/>
<rect x="238" y="318" width="3" height="3" fill="#00008b"/>
<rect x="242" y="319" width="3" height="2" fill="#00008b"/>
<rect x="246" y="318" width="3" height="3" fill="#00008b"/>
<rect x="250" y="317" width="3" height="4" fill="#00008b"/>
<rect x="254" y="315" width="3" height="6" fill="#00008b"/>
<rect x="258" y="323" width="3" height="3" fill="#00008b"/>
<rect x="262" y="323" width="3" height="5" fill="#00008b"/>
<rect x="266" y="323" width="3" height="4" fill="#00008b"/>
<rect x="270" y="323" width="3" height="9" fill="#00008b"/>
<rect x="274" y="323" width="3" height="11" fill="#00008b"/>
<rect x="278" y="323" width="3" height="14" fill="#00008b"/>
<rect x="282" y="323" width="3" height="17" fill="#00008b"/>
<rect x="286" y="323" width="3" height="16" fill="#00008b"/>
<rect x="290" y="323" width="3" height="13" fill="#00008b"/>
<rect x="294" y="323" width="3" height="8" fill="#00008b"/>
<rect x="298" y="323" width="3" height="7" fill="#00008b"/>
<rect x="302" y="323" width="3" height="1" fill="#00008b"/>
<rect x="306" y="323" width="3" height="1" fill="#00008b"/>
<rect x="310" y="323" width="3" height="3" fill="#00008b"/>
<rect x="322" y="320" width="3" height="1" fill="#00008b"/>
<rect x="330" y="323" width="3" height="2" fill="#00008b"/>
<rect x="334" y="323" width="3" height="3" fill="#00008b"/>
<rect x="338" y="323" width="3" height="3" fill="#00008b"/>
<rect x="342" y="323" width="3" height="2" fill="#00008b"/>
<rect x="346" y="323" width="3" height="1" fill="#00008b"/>
<rect x="350" y="320" width="3" height="1" fill="#00008b"/>
<rect x="358" y="320" width="3" height="1" fill="#00008b"/>
<rect x="362" y="319" width="3" height="2" fill="#00008b"/>
<rect x="366" y="320" width="3" height="1" fill="#00008b"/>
<rect x="370" y="318" width="3" height="3" fill="#00008b"/>
<rect x="374" y="317" width="3" height="4" fill="#00008b"/>
<rect x="378" y="318" width="3" height="3" fill="#00008b"/>
<rect x="382" y="318" width="3" height="3" fill="#00008b"/>
<rect x="386" y="318" width="3" height="3" fill="#00008b"/>
<rect x="390" y="318" width="3" height="3" fill="#00008b"/>
<rect x="394" y="318" width="3" height="3" fill="#00008b"/>
<rect x="398" y="318" width="3" height="3" fill="#00008b"/>
<rect x="402" y="319" width="3" height="2" fill="#00008b"/>
<rect x="410" y="320" width="3" height="1" fill="#00008b"/>
<rect x="414" y="320" width="3" height="1" fill="#00008b"/>
<rect x="422" y="318" width="3" height="3" fill="#00008b"/>
<rect x="426" y="319" width="3" height="2" fill="#00008b"/>
<rect x="430" y="314" width="3" height="7" fill="#00008b"/>
<rect x="434" y="312" width="3" height="9" fill="#00008b"/>
<rect x="438" y="314" width="3" height="7" fill="#00008b"/>
<rect x="442" y="313" width="3" height="8" fill="#00008b"/>
<rect x="446" y="310" width="3" height="11" fill="#00008b"/>
<rect x="450" y="310" width="3" height="11" fill="#00008b"/>
<rect x="454" y="312" width="3" height="9" fill="#00008b"/>
<rect x="458" y="316" width="3" height="5" fill="#00008b"/>
<rect x="462" y="318" width="3" height="3" fill="#00008b"/>
<rect x="470" y="323" width="3" height="1" fill="#00008b"/>
<rect x="478" y="323" width="3" height="1" fill="#00008b"/>
<rect x="482" y="320" width="3" height="1" fill="#00008b"/>
<rect x="486" y="319" width="3" height="2" fill="#00008b"/>
<rect x="490" y="319" width="3" height="2" fill="#00008b"/>
<rect x="498" y="323" width="3" height="3" fill="#00008b"/>
<rect x="502" y="323" width="3" height="9" fill="#00008b"/>
<rect x="506" y="323" width="3" height="6" fill="#00008b"/>
<rect x="510" y="323" width="3" height="4" fill="#00008b"/>
<rect x="514" y="323" width="3" height="6" fill="#00008b"/>
<rect x="518" y="323" width="3" height="5" fill="#00008b"/>
<rect x="522" y="323" width="3" height="3" fill="#00008b"/>
<rect x="526" y="320" width="3" height="1" fill="#00008b"/>
<rect x="530" y="319" width="3" height="2" fill="#00008b"/>
<rect x="534" y="318" width="3" height="3" fill="#00008b"/>
<rect x="538" y="318" width="3" height="3" fill="#00008b"/>
<rect x="546" y="323" width="3" height="3" fill="#00008b"/>
<rect x="550" y="323" width="3" height="2" fill="#00008b"/>
<rect x="554" y="323" width="3" height="3" fill="#00008b"/>
<rect x="558" y="323" width="3" height="3" fill="#00008b"/>
<rect x="562" y="320" width="3" height="1" fill="#00008b"/>
<rect x="566" y="318" width="3" height="3" fill="#00008b"/>
<rect x="570" y="315" width="3" height="6" fill="#00008b"/>
<rect x="574" y="311" width="3" height="10" fill="#00008b"/>
<rect x="578" y="307" width="3" height="14" fill="#00008b"/>
<rect x="582" y="311" width="3" height="10" fill="#00008b"/>
<rect x="586" y="312" width="3" height="9" fill="#00008b"/>
<rect x="590" y="313" width="3" height="8" fill="#00008b"/>
<rect x="594" y="309" width="3" height="12" fill="#00008b"/>
<rect x="598" y="307" width="3" height="14" fill="#00008b"/>
<rect x="602" y="310" width="3" height="11" fill="#00008b"/>
<rect x="606" y="310" width="3" height="11" fill="#00008b"/>
<rect x="610" y="310" width="3" height="11" fill="#00008b"/>
<rect x="614" y="305" width="3" height="16" fill="#00008b"/>
<rect x="618" y="307" width="3" height="14" fill="#00008b"/>
<rect x="622" y="303" width="3" height="18" fill="#00008b"/>
<rect x="626" y="310" width="3" height="11" fill="#00008b"/>
<rect x="630" y="313" width="3" height="8" fill="#00008b"/>
<polyline points="3,324 7,325 19,325 23,323 27,321 31,321 35,322 39,324 43,326 47,327 51,327 55,327 59,326 63,325 67,324 71,324 75,324 79,325 83,327 87,327 91,327 95,326 99,324 103,323 107,320 111,317 115,315 119,314 123,314 127,314 135,314 139,315 143,316 147,317 151,318 155,319 163,319 167,318 171,316 175,315 179,315 183,315 187,317 191,318 195,319 199,320 203,321 207,323 211,324 219,324 223,321 227,319 231,317 235,314 239,313 243,315 247,316 251,317 255,318 259,319 263,321 267,322 271,325 275,328 279,331 283,333 287,335 291,336 295,336 299,335 303,332 307,330 311,328 315,326 319,324 323,324 327,323 331,323 335,323 339,324 343,325 351,325 355,324 359,323 363,321 367,321 371,320 375,320 379,319 383,318 399,318 403,319 407,319 415,319 419,320 423,321 427,320 431,319 435,318 439,316 443,315 447,314 451,313 455,312 459,312 463,313 467,315 471,317 475,320 479,321 483,322 487,322 491,321 499,321 503,324 507,325 511,327 515,328 523,328 527,326 531,325 535,324 539,321 543,320 547,320 551,321 555,322 559,324 563,324 567,323 571,321 575,318 579,315 583,313 587,312 591,312 595,311 599,310 613,310 617,309 621,308 625,307 629,308 631,308" fill="none" stroke="#ff0000" stroke-width="2"/>
<rect x="5" y="321" width="656" height="2" fill="#000"/>
<rect x="2" y="300" width="658" height="1" fill="#000"/>
<rect x="2" y="341" width="658" height="1" fill="#000"/>
<rect x="2" y="300" width="1" height="42" fill="#000"/>
<rect x="659" y="300" width="1" height="42" fill="#000"/>
<rect x="660" y="302" width="1" height="1" fill="#000"/>
<rect x="660" y="340" width="1" height="1" fill="#000"/>
<text x="7.4" y="313" textLength="60" lengthAdjust="spacingAndGlyphs">MACD(3,10,5)</text>
<text x="70.9" y="313" textLength="23.2" lengthAdjust="spacingAndGlyphs">38.34</text>
<text x="96.6" y="313" textLength="23.2" lengthAdjust="spacingAndGlyphs">60.74</text>
<text x="663" y="311" textLength="23" lengthAdjust="spacingAndGlyphs">86.44</text>
<rect x="661" y="317" width="7" height="11" fill="#000"/>
<text x="661.5" y="326" textLength="6" lengthAdjust="spacingAndGlyphs" style="fill:#fff;stroke:#fff">0</text>
<text x="668" y="326" textLength="13.5" lengthAdjust="spacingAndGlyphs">.00</text>
<text x="663" y="338" textLength="25.5" lengthAdjust="spacingAndGlyphs">-77.45</text>
<polyline points="3,355.3 7,351.3 11,351.3 43,351.3 49,349.6 54,347 58,346.4 61,347 66,348.9 71,349.3 75,347.9 79,350.3 83,352.4 87,355.6 91,356 94,357 100,358.6 104,361.4 108,361.6 112,364.6 116,365.4 120,366.6 124,368 128,368.4 132,370.4 135,371.6 140,368 144,370 147.6,372.4 151.6,369.4 155.6,372.4 160,370 164,368.4 168,368.4 171,367 175,368.6 179,370.4 183,370.4 188,366 192,365.4 195,366.6 199,364.6 203,362.2 207,363.4 211,361 215,359.4 220,358 225,356.6 231,356 236,353.4 240,351 244,354 248,353.4 255.6,353.4 259,348.6 264,348.4 267,347.4 271,347.4 275,350 279,351.4 283,349 287,347.4 291,348.4 295,348.4 298,347.4 304,347.4 307,348.6 311,346 315,353.4 320,353.4 324,355.4 328,356.6 334,359.4 339,364 343,366 347,367 351,368 355,369 361,370.6 364,372.6 368,375.4 375,375.4 378,373.6 380,373 383.6,375 389,372.6 395,372.4 399,371.4 405,371 411,368.4 415,369.6 421,365.6 424,365.4 428,366.6 431,365.4 437,365.4 443,367.4 449,364.6 455,364.4 458,363 462,365 468,369.4 475,369.4 482,365.4 485,365.4 488,366.6 492,365 498,362.4 504,362 510,360.4 516,357.4 520,356 524,355 527.6,354.4 532,358.6 540,362.4 543,361 546,361.4 552,364 556,366 560,369.4 565,369.4 570,371 576,372.4 580,371.4 584,371.4 587,370.4 591,371.4 596,368.4 600,369.4 604,369.4 608,370.4 612,369 615.6,364.4 619.6,366.4 624,363 628,360.4 630.6,361.4" fill="none" stroke="#1e90ff" stroke-width="1"/>
<rect x="2" y="343" width="658" height="1" fill="#000"/>
<rect x="2" y="377" width="658" height="1" fill="#000"/>
<rect x="2" y="343" width="1" height="35" fill="#000"/>
<rect x="659" y="343" width="1" height="35" fill="#000"/>
<rect x="660" y="345" width="1" height="1" fill="#000"/>
<rect x="660" y="376" width="1" height="1" fill="#000"/>
<text x="7.4" y="356" textLength="35.2" lengthAdjust="spacingAndGlyphs">ATR(14)</text>
<text x="44.9" y="356" textLength="33.5" lengthAdjust="spacingAndGlyphs">52.1714</text>
<text x="663" y="354" textLength="34" lengthAdjust="spacingAndGlyphs">68.5407</text>
<text x="663" y="374" textLength="28.5" lengthAdjust="spacingAndGlyphs">37.945</text>
<line x1="4" y1="390.5" x2="659" y2="390.5" stroke="#c0c0c0" stroke-width="1" stroke-dasharray="3,3"/>
<line x1="4" y1="403.5" x2="659" y2="403.5" stroke="#c0c0c0" stroke-width="1" stroke-dasharray="3,3"/>
<polyline points="3,397 7,397.4 12,395 16,394 20,394.4 24,396.4 29,396 35,398 39,396.4 43,397.6 47,399.4 51,397 55,395.4 59,396 64,396 68,398.4 75,397 79,399 83,398 87,400 91,398 98,395.4 104,394.4 109,395 113,394 120,393 126,394 132,393 137,393.4 140,395.4 146,394.4 152,394.4 155,395.6 163,391 167,391.6 172,393.4 176,393.4 179,392.4 183,392.4 188,395.4 193,393.4 197,393.4 204,397.4 208,396.4 211,397.4 219,393 223,392 228,394.4 231,393.4 236,393.4 240,395.4 244,395.4 247,394.4 252,394.4 255,393.4 260,397.4 264,397 267,396.2 273,399 280,400.4 283,401.4 288,401.4 295,398 299,399.4 303,397.4 307,398 311,399.4 315,397.4 319,398.4 323,397.4 327,398.4 344,398.4 350,396.4 352,396.4 355.6,398.4 359,396.4 368,396.4 374,394.4 377,394.4 383,396.4 389,394.4 403,394.4 407.4,397.4 411.6,393 416,395.4 420,394.6 423,393.4 427,394.4 432,391.4 436,391 440,392 447,390.4 456,390.4 460,393.4 464,393.4 468,394.4 472,394.4 475,393.4 479.4,396.4 484,393.4 489,393.4 496,395.4 503.6,399.4 507,397.4 513,397.4 516,398.4 519,398.4 525,395.4 541,395.4 547,398.4 551,397.4 556,397.4 560,397.8 565,395 569,393.4 573,392.6 579,390.4 584,393.4 588,393.4 596,390.4 599,390.4 603,391.4 608,391.4 615,388.4 619,390.4 623,388.4 627.6,392.4 631,392.4" fill="none" stroke="#ff0000" stroke-width="1"/>
<rect x="2" y="379" width="658" height="1" fill="#000"/>
<rect x="2" y="413" width="658" height="1" fill="#000"/>
<rect x="2" y="379" width="1" height="35" fill="#000"/>
<rect x="659" y="379" width="1" height="35" fill="#000"/>
<rect x="660" y="381" width="1" height="1" fill="#000"/>
<rect x="660" y="412" width="1" height="1" fill="#000"/>
<text x="7.1" y="392" textLength="31.4" lengthAdjust="spacingAndGlyphs">RSI(14)</text>
<text x="41.1" y="392" textLength="34.4" lengthAdjust="spacingAndGlyphs">63.7844</text>
<text x="663" y="390" textLength="16" lengthAdjust="spacingAndGlyphs">100</text>
<text x="663" y="394" textLength="11" lengthAdjust="spacingAndGlyphs">70</text>
<text x="663" y="407" textLength="11" lengthAdjust="spacingAndGlyphs">30</text>
<text x="663" y="410" textLength="6" lengthAdjust="spacingAndGlyphs">0</text>
<polyline points="7,434.5 16,431.5 21.5,430.5 24,430.5 27.5,432 29.5,433.5 33.5,434.5 39.5,435.5 41.5,436.5 46,438.5 51.5,439.5 53.5,437.5 56.5,434 62,436.5 64,438.5 70,436.6 77,433 82,438 87,441 92,438.6 98,436.6 104,433 109,431.4 116,430.6 122,430 128,432 134,431 136,431 142,434 148,433 152,431.4 156,433 162,430.6 166,428 170,429.4 178,431 182,433 188,434.6 194,436 200,434.6 206,437.4 212,435.4 218,431.4 223,429.4 229,430.6 234,432.6 240,434.6 246,433 252,432 258,434.6 264,437.4 270,438.6 277,440 283,441.4 288,441 292,438 297,434.6 302,435.4 307,437 313,436.6 319,435.4 326,438 332,439 337,440 342,438 347,435 353,436 360,437 366,435.4 371,434 376,429.4 382,433 388,435 394,434.6 402,437 408,438.6 412,435.4 417,434.6 422,433 428,429.4 434,428 448,428 453,429 459,432.6 464,435.4 469,434.6 472,437 476,434 480,435.4 485,435.4 489,433 494,434.6 499,437 504,437.4 509,435 514,433 520,430.6 523,432.6 527,430.6 532,433 537,432 542,434 548,436 554,436 560,437 567,434 572,429.4 579,425.4 586,430 591,432.6 596,428 602,426.6 607,429.4 613,425 622,424 628,428.6 631,429" fill="none" stroke="#2e8b57" stroke-width="1" stroke-dasharray="3,3"/>
<polyline points="3,429.5 5.5,427 8,427 11,429 15.5,431.3 17.5,432 21.5,434 24,435.5 27.5,431.5 30,430.5 33.5,430 35.5,431.5 39.5,433.5 41.5,433.5 45.5,432 47.5,430.5 51.5,432 54,433.5 57.5,434.5 60,435.5 63.5,434.5 65.5,433.5 69,434.5 72,434 80,435.4 88,432.6 92,434 98,436.6 103,436 108,439.4 116,440 122,438.6 128,441 132,441.4 136,441 142,438.6 148,439 156,441 164,441 168,442.6 173,438 178,438 184,439.4 190,438 196,440 200,438 206,436 212,437 218,438.6 224,440 230,442 236,441 242,438.6 248,440 254,441.4 260,438.6 264,436.6 268,437.4 272,438.6 275,436 280,432 285,430 291,432 297,434 303,437 308,437 313,434.6 319,436.6 326,436.6 332,434 338,436.6 343,432.6 350,433 355,434.6 362,437 368,434.6 372,433 375,438 380,438.6 388,438 392,438.6 396,437.4 402,436.6 409,435.4 415,437 421,433 427,436.6 432,438 438,440 444,440.6 451,442.6 458,440.6 464,438.6 470,436 475,434 481,436 486,438.6 492,438.6 496,434 501,432 506,430.6 511,433.4 517,431 523,432.6 529,436 535,435 542,434 548,432.6 554,435.4 560,438 566,439 573,440.6 579,442.6 585,442 590,439.4 598,440.6 606,441.4 614,442 622,442.6 628,440 631,440" fill="none" stroke="#ff0000" stroke-width="1" stroke-dasharray="3,3"/>
<polyline points="3,433.5 9,433.5 15,435.5 20,436.5 26,437.2 32,437.5 39,438.5 44,438.5 49,436.8 53,436.8 58,438 63,439.3 70,438.4 76,437 84,436 89,434.6 94,434.6 100,435.4 104,434.6 109,432.6 113,431.4 118,430.6 123,429 128,427.4 132,425.4 140,425.4 160,425.6 170,426.4 188,427 192,429 200,429.4 206,432 212,434 218,432 224,430 230,428 236,427.4 242,428.6 250,428 256,427.4 262,430 266,432 271,433.4 276,433.4 282,430.6 288,428 294,429.4 300,432 307,435 314,435.4 320,437.4 324,438.4 329,437.4 338,437.4 344,435.4 348,437 358,437.4 362,438.4 367,439 371,439 374,437.4 388,437.4 390,438 398,438 404,439.4 410,439 424,439 432,437.4 440,433 448,429 454,426.4 461,426.4 468,429.4 476,432 484,435 490,434 498,435.4 506,435 512,436 518,436.6 524,438 528,438 530,437 542,438.4 550,439 559,440 568,438 574,434 580,430.6 585,427.4 594,426.6 602,423.4 608,423 615,420.4 623,417 627,418.4 631,418.4" fill="none" stroke="#000" stroke-width="1"/>
<rect x="2" y="415" width="658" height="1" fill="#000"/>
<rect x="2" y="445" width="658" height="1" fill="#000"/>
<rect x="2" y="415" width="1" height="31" fill="#000"/>
<rect x="659" y="415" width="1" height="31" fill="#000"/>
<rect x="660" y="417" width="1" height="1" fill="#000"/>
<rect x="660" y="444" width="1" height="1" fill="#000"/>
<text x="7.5" y="428" textLength="35" lengthAdjust="spacingAndGlyphs">ADX(14)</text>
<text x="45.1" y="428" textLength="32.6" lengthAdjust="spacingAndGlyphs">54.4647</text>
<text x="81.5" y="428" textLength="53.4" lengthAdjust="spacingAndGlyphs">+DI:31.0080</text>
<text x="138.5" y="428" textLength="50" lengthAdjust="spacingAndGlyphs">-DI:10.0112</text>
<text x="663" y="426" textLength="11" lengthAdjust="spacingAndGlyphs">57</text>
<text x="663" y="442" textLength="6" lengthAdjust="spacingAndGlyphs">3</text>
<rect x="3" y="472" width="1" height="7" fill="#ff0000"/>
<rect x="7" y="465" width="1" height="14" fill="#008000"/>
<rect x="11" y="474" width="1" height="5" fill="#ff0000"/>
<rect x="15" y="475" width="1" height="4" fill="#ff0000"/>
<rect x="19" y="473" width="1" height="6" fill="#008000"/>
<rect x="23" y="471" width="1" height="8" fill="#008000"/>
<rect x="27" y="470" width="1" height="9" fill="#008000"/>
<rect x="31" y="465" width="1" height="14" fill="#008000"/>
<rect x="35" y="469" width="1" height="10" fill="#ff0000"/>
<rect x="39" y="473" width="1" height="6" fill="#ff0000"/>
<rect x="43" y="470" width="1" height="9" fill="#008000"/>
<rect x="47" y="467" width="1" height="12" fill="#008000"/>
<rect x="51" y="473" width="1" height="6" fill="#ff0000"/>
<rect x="55" y="468" width="1" height="11" fill="#008000"/>
<rect x="59" y="468" width="1" height="11" fill="#008000"/>
<rect x="63" y="467" width="1" height="12" fill="#008000"/>
<rect x="67" y="467" width="1" height="12" fill="#ff0000"/>
<rect x="71" y="468" width="1" height="11" fill="#ff0000"/>
<rect x="75" y="468" width="1" height="11" fill="#008000"/>
<rect x="79" y="451" width="1" height="28" fill="#008000"/>
<rect x="83" y="469" width="1" height="10" fill="#ff0000"/>
<rect x="87" y="471" width="1" height="8" fill="#ff0000"/>
<rect x="91" y="471" width="1" height="8" fill="#ff0000"/>
<rect x="95" y="472" width="1" height="7" fill="#ff0000"/>
<rect x="99" y="473" width="1" height="6" fill="#ff0000"/>
<rect x="103" y="474" width="1" height="5" fill="#ff0000"/>
<rect x="107" y="474" width="1" height="5" fill="#008000"/>
<rect x="111" y="471" width="1" height="8" fill="#008000"/>
<rect x="115" y="473" width="1" height="6" fill="#ff0000"/>
<rect x="119" y="472" width="1" height="7" fill="#008000"/>
<rect x="123" y="472" width="1" height="7" fill="#008000"/>
<rect x="127" y="474" width="1" height="5" fill="#ff0000"/>
<rect x="131" y="474" width="1" height="5" fill="#ff0000"/>
<rect x="135" y="472" width="1" height="7" fill="#008000"/>
<rect x="139" y="473" width="1" height="6" fill="#ff0000"/>
<rect x="143" y="472" width="1" height="7" fill="#008000"/>
<rect x="147" y="474" width="1" height="5" fill="#ff0000"/>
<rect x="151" y="471" width="1" height="8" fill="#008000"/>
<rect x="155" y="472" width="1" height="7" fill="#ff0000"/>
<rect x="159" y="472" width="1" height="7" fill="#008000"/>
<rect x="163" y="469" width="1" height="10" fill="#008000"/>
<rect x="167" y="472" width="1" height="7" fill="#ff0000"/>
<rect x="171" y="470" width="1" height="9" fill="#008000"/>
<rect x="175" y="471" width="1" height="8" fill="#ff0000"/>
<rect x="179" y="472" width="1" height="7" fill="#ff0000"/>
<rect x="183" y="474" width="1" height="5" fill="#ff0000"/>
<rect x="187" y="471" width="1" height="8" fill="#008000"/>
<rect x="191" y="470" width="1" height="9" fill="#008000"/>
<rect x="195" y="471" width="1" height="8" fill="#ff0000"/>
<rect x="199" y="470" width="1" height="9" fill="#008000"/>
<rect x="203" y="466" width="1" height="13" fill="#008000"/>
<rect x="207" y="471" width="1" height="8" fill="#ff0000"/>
<rect x="211" y="473" width="1" height="6" fill="#ff0000"/>
<rect x="215" y="472" width="1" height="7" fill="#008000"/>
<rect x="219" y="467" width="1" height="12" fill="#008000"/>
<rect x="223" y="472" width="1" height="7" fill="#ff0000"/>
<rect x="227" y="469" width="1" height="10" fill="#008000"/>
<rect x="231" y="468" width="1" height="11" fill="#008000"/>
<rect x="235" y="471" width="1" height="8" fill="#ff0000"/>
<rect x="239" y="470" width="1" height="9" fill="#008000"/>
<rect x="243" y="473" width="1" height="6" fill="#ff0000"/>
<rect x="247" y="473" width="1" height="6" fill="#ff0000"/>
<rect x="251" y="472" width="1" height="7" fill="#008000"/>
<rect x="255" y="470" width="1" height="9" fill="#008000"/>
<rect x="259" y="461" width="1" height="18" fill="#008000"/>
<rect x="263" y="473" width="1" height="6" fill="#ff0000"/>
<rect x="267" y="470" width="1" height="9" fill="#008000"/>
<rect x="271" y="470" width="1" height="9" fill="#ff0000"/>
<rect x="275" y="470" width="1" height="9" fill="#008000"/>
<rect x="279" y="473" width="1" height="6" fill="#ff0000"/>
<rect x="283" y="473" width="1" height="6" fill="#008000"/>
<rect x="287" y="469" width="1" height="10" fill="#008000"/>
<rect x="291" y="470" width="1" height="9" fill="#ff0000"/>
<rect x="295" y="472" width="1" height="7" fill="#ff0000"/>
<rect x="299" y="472" width="1" height="7" fill="#008000"/>
<rect x="303" y="475" width="1" height="4" fill="#ff0000"/>
<rect x="307" y="473" width="1" height="6" fill="#008000"/>
<rect x="311" y="466" width="1" height="13" fill="#008000"/>
<rect x="315" y="470" width="1" height="9" fill="#ff0000"/>
<rect x="319" y="468" width="1" height="11" fill="#008000"/>
<rect x="323" y="472" width="1" height="7" fill="#ff0000"/>
<rect x="327" y="469" width="1" height="10" fill="#008000"/>
<rect x="331" y="468" width="1" height="11" fill="#008000"/>
<rect x="335" y="466" width="1" height="13" fill="#008000"/>
<rect x="339" y="470" width="1" height="9" fill="#ff0000"/>
<rect x="343" y="471" width="1" height="8" fill="#ff0000"/>
<rect x="347" y="474" width="1" height="5" fill="#ff0000"/>
<rect x="351" y="471" width="1" height="8" fill="#008000"/>
<rect x="355" y="474" width="1" height="5" fill="#ff0000"/>
<rect x="359" y="472" width="1" height="7" fill="#008000"/>
<rect x="363" y="473" width="1" height="6" fill="#ff0000"/>
<rect x="367" y="474" width="1" height="5" fill="#ff0000"/>
<rect x="371" y="474" width="1" height="5" fill="#008000"/>
<rect x="375" y="474" width="1" height="5" fill="#008000"/>
<rect x="379" y="474" width="1" height="5" fill="#008000"/>
<rect x="383" y="471" width="1" height="8" fill="#008000"/>
<rect x="387" y="472" width="1" height="7" fill="#ff0000"/>
<rect x="391" y="473" width="1" height="6" fill="#ff0000"/>
<rect x="395" y="473" width="1" height="6" fill="#ff0000"/>
<rect x="399" y="473" width="1" height="6" fill="#008000"/>
<rect x="403" y="470" width="1" height="9" fill="#008000"/>
<rect x="407" y="469" width="1" height="10" fill="#008000"/>
<rect x="411" y="474" width="1" height="5" fill="#ff0000"/>
<rect x="415" y="473" width="1" height="6" fill="#008000"/>
<rect x="419" y="468" width="1" height="11" fill="#008000"/>
<rect x="423" y="474" width="1" height="5" fill="#ff0000"/>
<rect x="427" y="473" width="1" height="6" fill="#008000"/>
<rect x="431" y="474" width="1" height="5" fill="#ff0000"/>
<rect x="435" y="471" width="1" height="8" fill="#008000"/>
<rect x="439" y="474" width="1" height="5" fill="#ff0000"/>
<rect x="443" y="474" width="1" height="5" fill="#ff0000"/>
<rect x="447" y="472" width="1" height="7" fill="#008000"/>
<rect x="451" y="472" width="1" height="7" fill="#008000"/>
<rect x="455" y="470" width="1" height="9" fill="#008000"/>
<rect x="459" y="472" width="1" height="7" fill="#ff0000"/>
<rect x="463" y="474" width="1" height="5" fill="#ff0000"/>
<rect x="467" y="473" width="1" height="6" fill="#008000"/>
<rect x="471" y="472" width="1" height="7" fill="#008000"/>
<rect x="475" y="473" width="1" height="6" fill="#ff0000"/>
<rect x="479" y="469" width="1" height="10" fill="#008000"/>
<rect x="483" y="474" width="1" height="5" fill="#ff0000"/>
<rect x="487" y="469" width="1" height="10" fill="#008000"/>
<rect x="491" y="469" width="1" height="10" fill="#ff0000"/>
<rect x="495" y="466" width="1" height="13" fill="#008000"/>
<rect x="499" y="471" width="1" height="8" fill="#ff0000"/>
<rect x="503" y="469" width="1" height="10" fill="#008000"/>
<rect x="507" y="472" width="1" height="7" fill="#ff0000"/>
<rect x="511" y="469" width="1" height="10" fill="#008000"/>
<rect x="515" y="469" width="1" height="10" fill="#ff0000"/>
<rect x="519" y="470" width="1" height="9" fill="#ff0000"/>
<rect x="523" y="469" width="1" height="10" fill="#008000"/>
<rect x="527" y="472" width="1" height="7" fill="#ff0000"/>
<rect x="531" y="474" width="1" height="5" fill="#ff0000"/>
<rect x="535" y="475" width="1" height="4" fill="#ff0000"/>
<rect x="539" y="471" width="1" height="8" fill="#008000"/>
<rect x="543" y="472" width="1" height="7" fill="#ff0000"/>
<rect x="547" y="472" width="1" height="7" fill="#008000"/>
<rect x="551" y="473" width="1" height="6" fill="#ff0000"/>
<rect x="555" y="472" width="1" height="7" fill="#008000"/>
<rect x="559" y="472" width="1" height="7" fill="#ff0000"/>
<rect x="563" y="472" width="1" height="7" fill="#008000"/>
<rect x="567" y="472" width="1" height="7" fill="#008000"/>
<rect x="571" y="471" width="1" height="8" fill="#008000"/>
<rect x="575" y="468" width="1" height="11" fill="#008000"/>
<rect x="579" y="465" width="1" height="14" fill="#008000"/>
<rect x="583" y="468" width="1" height="11" fill="#ff0000"/>
<rect x="587" y="467" width="1" height="12" fill="#008000"/>
<rect x="591" y="468" width="1" height="11" fill="#ff0000"/>
<rect x="595" y="462" width="1" height="17" fill="#008000"/>
<rect x="599" y="473" width="1" height="6" fill="#ff0000"/>
<rect x="603" y="473" width="1" height="6" fill="#ff0000"/>
<rect x="607" y="474" width="1" height="5" fill="#ff0000"/>
<rect x="611" y="471" width="1" height="8" fill="#008000"/>
<rect x="615" y="470" width="1" height="9" fill="#008000"/>
<rect x="619" y="469" width="1" height="10" fill="#008000"/>
<rect x="623" y="467" width="1" height="12" fill="#008000"/>
<rect x="627" y="470" width="1" height="9" fill="#ff0000"/>
<rect x="2" y="447" width="658" height="1" fill="#000"/>
<rect x="2" y="479" width="658" height="1" fill="#000"/>
<rect x="2" y="447" width="1" height="33" fill="#000"/>
<rect x="659" y="447" width="1" height="33" fill="#000"/>
<rect x="660" y="449" width="1" height="1" fill="#000"/>
<rect x="660" y="478" width="1" height="1" fill="#000"/>
<text x="7.4" y="460" textLength="35.7" lengthAdjust="spacingAndGlyphs">Volumes</text>
<text x="45.5" y="460" textLength="15.7" lengthAdjust="spacingAndGlyphs">473</text>
<text x="663" y="458" textLength="25.5" lengthAdjust="spacingAndGlyphs">17287</text>
<text x="663" y="476" textLength="6" lengthAdjust="spacingAndGlyphs">0</text>
<rect x="3" y="480" width="1" height="3" fill="#000"/>
<text x="2" y="492" textLength="55.5" lengthAdjust="spacingAndGlyphs">22 May 2025</text>
<rect x="67" y="480" width="1" height="3" fill="#000"/>
<text x="66" y="492" textLength="49.75" lengthAdjust="spacingAndGlyphs">13 Jun 2025</text>
<rect x="131" y="480" width="1" height="3" fill="#000"/>
<text x="130" y="492" textLength="41.75" lengthAdjust="spacingAndGlyphs">8 Jul 2025</text>
<rect x="195" y="480" width="1" height="3" fill="#000"/>
<text x="194" y="492" textLength="47.25" lengthAdjust="spacingAndGlyphs">30 Jul 2025</text>
<rect x="259" y="480" width="1" height="3" fill="#000"/>
<text x="258" y="492" textLength="53.5" lengthAdjust="spacingAndGlyphs">22 Aug 2025</text>
<rect x="323" y="480" width="1" height="3" fill="#000"/>
<text x="322" y="492" textLength="52.25" lengthAdjust="spacingAndGlyphs">15 Sep 2025</text>
<rect x="387" y="480" width="1" height="3" fill="#000"/>
<text x="386" y="492" textLength="46" lengthAdjust="spacingAndGlyphs">7 Oct 2025</text>
<rect x="451" y="480" width="1" height="3" fill="#000"/>
<text x="450" y="492" textLength="51.3" lengthAdjust="spacingAndGlyphs">29 Oct 2025</text>
<rect x="515" y="480" width="1" height="3" fill="#000"/>
<text x="514" y="492" textLength="54.4" lengthAdjust="spacingAndGlyphs">21 Nov 2025</text>
<rect x="579" y="480" width="1" height="3" fill="#000"/>
<text x="578" y="492" textLength="51.8" lengthAdjust="spacingAndGlyphs">15 Dec 2025</text>
</svg>
</body></html>
